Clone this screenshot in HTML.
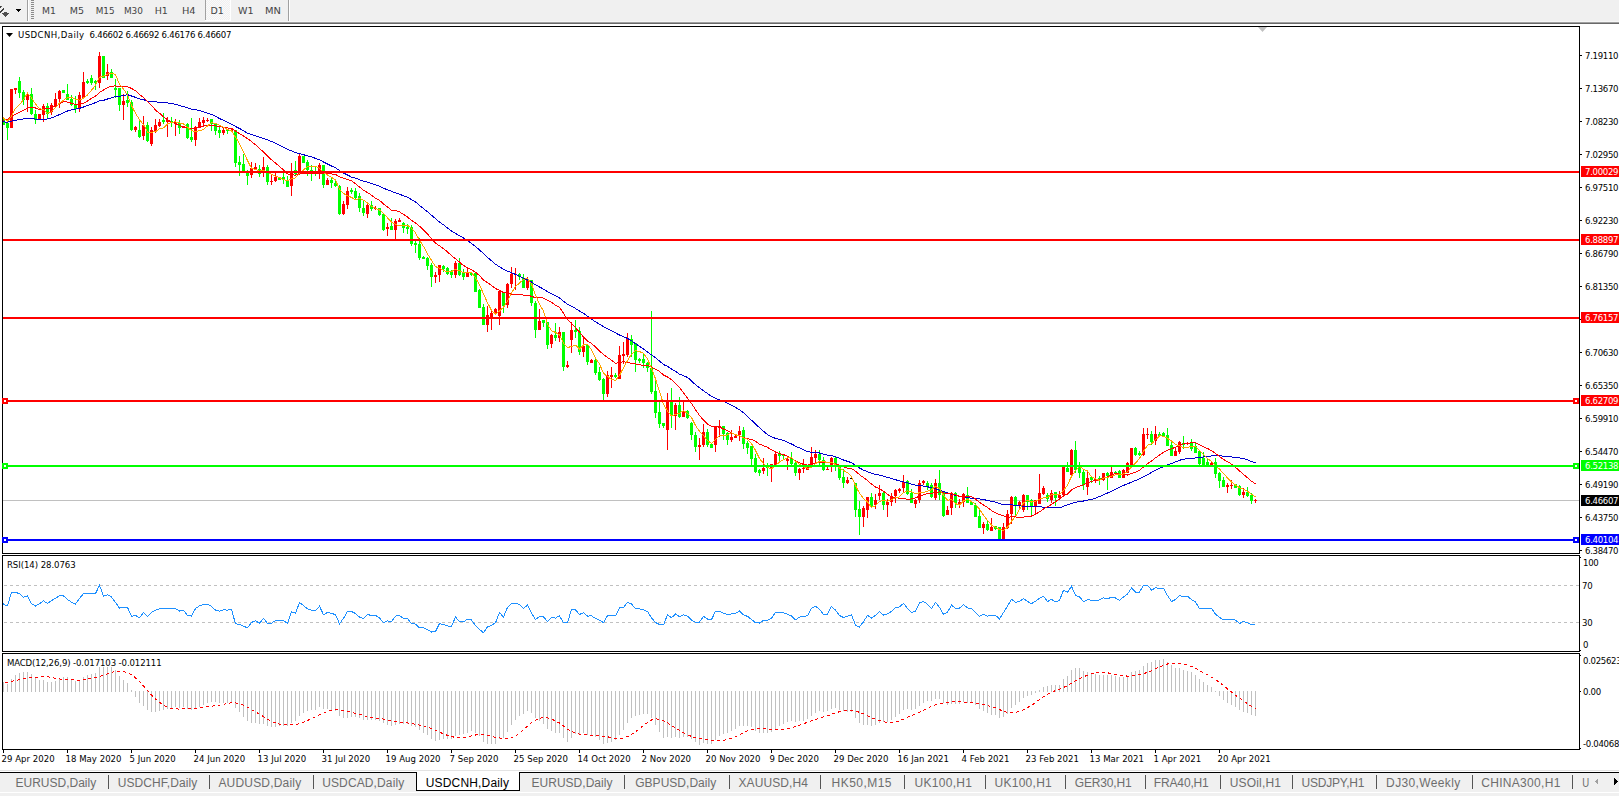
<!DOCTYPE html>
<html><head><meta charset="utf-8"><title>USDCNH,Daily</title>
<style>
html,body{margin:0;padding:0;background:#fff;width:1619px;height:796px;overflow:hidden}
svg{position:absolute;left:0;top:0;display:block}
text{white-space:pre}
.ax{font-family:'DejaVu Sans Condensed','DejaVu Sans','Liberation Sans',sans-serif;font-size:9.5px;letter-spacing:-0.3px}
.tm{font-family:'DejaVu Sans Condensed','DejaVu Sans','Liberation Sans',sans-serif;font-size:9.5px;letter-spacing:0.03px}
.tn{font-family:'DejaVu Sans Condensed','DejaVu Sans','Liberation Sans',sans-serif;font-size:9.5px;letter-spacing:-0.3px}
.ti{font-family:'DejaVu Sans Condensed','DejaVu Sans','Liberation Sans',sans-serif;font-size:9.5px;letter-spacing:0.4px}
.tb{font-family:'DejaVu Sans Condensed','DejaVu Sans','Liberation Sans',sans-serif;font-size:9.5px}
.tab{font-family:'Liberation Sans',sans-serif;font-size:12px}
</style></head>
<body>
<svg width="1619" height="796" viewBox="0 0 1619 796">
<g shape-rendering="crispEdges">
<rect x="0" y="0" width="1619" height="21" fill="#f0f0f0"/><rect x="0" y="21" width="1619" height="1" fill="#f6f6f6"/><rect x="0" y="22" width="1619" height="1" fill="#a0a0a0"/><rect x="0" y="23" width="1619" height="1" fill="#696969"/><defs><pattern id="dith" width="2" height="2" patternUnits="userSpaceOnUse"><rect width="2" height="2" fill="#f0f0f0"/><rect width="1" height="1" fill="#fafafa"/><rect x="1" y="1" width="1" height="1" fill="#fafafa"/></pattern></defs><rect x="206" y="0" width="24" height="20" fill="url(#dith)"/><rect x="205" y="0" width="1" height="20" fill="#a0a0a0"/><rect x="205" y="20" width="26" height="1" fill="#ffffff"/><rect x="230" y="0" width="1" height="21" fill="#ffffff"/><rect x="27" y="0" width="1" height="21" fill="#a0a0a0"/><rect x="28" y="0" width="1" height="21" fill="#ffffff"/><rect x="288" y="0" width="1" height="21" fill="#a0a0a0"/><rect x="289" y="0" width="1" height="21" fill="#ffffff"/><rect x="31" y="0" width="3" height="1" fill="#8a8a8a"/><rect x="31" y="2" width="3" height="1" fill="#8a8a8a"/><rect x="31" y="4" width="3" height="1" fill="#8a8a8a"/><rect x="31" y="6" width="3" height="1" fill="#8a8a8a"/><rect x="31" y="8" width="3" height="1" fill="#8a8a8a"/><rect x="31" y="10" width="3" height="1" fill="#8a8a8a"/><rect x="31" y="12" width="3" height="1" fill="#8a8a8a"/><rect x="31" y="14" width="3" height="1" fill="#8a8a8a"/><rect x="31" y="16" width="3" height="1" fill="#8a8a8a"/><rect x="31" y="18" width="3" height="1" fill="#8a8a8a"/><rect x="0" y="6" width="1" height="2" fill="#404040"/><rect x="1" y="6" width="1" height="1" fill="#606060"/><rect x="3" y="8" width="1" height="1" fill="#404040"/><rect x="2" y="9" width="2" height="1" fill="#404040"/><rect x="1" y="10" width="2" height="1" fill="#404040"/><rect x="0" y="11" width="2" height="1" fill="#404040"/><rect x="0" y="12" width="1" height="1" fill="#404040"/><rect x="4" y="12" width="3" height="1" fill="#505050"/><rect x="2" y="13" width="7" height="1" fill="#505050"/><rect x="3" y="14" width="5" height="1" fill="#505050"/><rect x="4" y="15" width="3" height="1" fill="#505050"/><rect x="5" y="16" width="1" height="1" fill="#505050"/><rect x="16" y="9" width="5" height="1" fill="#000"/><rect x="17" y="10" width="3" height="1" fill="#000"/><rect x="18" y="11" width="1" height="1" fill="#000"/><g><text x="42.0" y="14" class="tb" fill="#444444" textLength="13.8" lengthAdjust="spacingAndGlyphs">M1</text><text x="69.8" y="14" class="tb" fill="#444444" textLength="14.2" lengthAdjust="spacingAndGlyphs">M5</text><text x="95.7" y="14" class="tb" fill="#444444" textLength="18.9" lengthAdjust="spacingAndGlyphs">M15</text><text x="123.9" y="14" class="tb" fill="#444444" textLength="19.0" lengthAdjust="spacingAndGlyphs">M30</text><text x="154.7" y="14" class="tb" fill="#444444" textLength="13.2" lengthAdjust="spacingAndGlyphs">H1</text><text x="181.9" y="14" class="tb" fill="#444444" textLength="13.7" lengthAdjust="spacingAndGlyphs">H4</text><text x="210.6" y="14" class="tb" fill="#444444" textLength="13.3" lengthAdjust="spacingAndGlyphs">D1</text><text x="238.0" y="14" class="tb" fill="#444444" textLength="15.6" lengthAdjust="spacingAndGlyphs">W1</text><text x="264.9" y="14" class="tb" fill="#444444" textLength="15.9" lengthAdjust="spacingAndGlyphs">MN</text></g>
<rect x="2" y="26" width="1578" height="1" fill="#000"/><rect x="2" y="553" width="1578" height="1" fill="#000"/><rect x="2" y="26" width="1" height="528" fill="#000"/><rect x="1579" y="26" width="1" height="528" fill="#000"/><rect x="2" y="555" width="1578" height="1" fill="#000"/><rect x="2" y="651" width="1578" height="1" fill="#000"/><rect x="2" y="555" width="1" height="97" fill="#000"/><rect x="1579" y="555" width="1" height="97" fill="#000"/><rect x="2" y="653" width="1578" height="1" fill="#000"/><rect x="2" y="749" width="1578" height="1" fill="#000"/><rect x="2" y="653" width="1" height="97" fill="#000"/><rect x="1579" y="653" width="1" height="97" fill="#000"/><rect x="1580" y="55" width="2" height="1" fill="#000"/><rect x="1580" y="88" width="2" height="1" fill="#000"/><rect x="1580" y="121" width="2" height="1" fill="#000"/><rect x="1580" y="154" width="2" height="1" fill="#000"/><rect x="1580" y="187" width="2" height="1" fill="#000"/><rect x="1580" y="220" width="2" height="1" fill="#000"/><rect x="1580" y="253" width="2" height="1" fill="#000"/><rect x="1580" y="286" width="2" height="1" fill="#000"/><rect x="1580" y="319" width="2" height="1" fill="#000"/><rect x="1580" y="352" width="2" height="1" fill="#000"/><rect x="1580" y="385" width="2" height="1" fill="#000"/><rect x="1580" y="418" width="2" height="1" fill="#000"/><rect x="1580" y="451" width="2" height="1" fill="#000"/><rect x="1580" y="484" width="2" height="1" fill="#000"/><rect x="1580" y="517" width="2" height="1" fill="#000"/><rect x="1580" y="550" width="2" height="1" fill="#000"/><rect x="1580" y="557" width="1" height="1" fill="#000"/><rect x="1580" y="650" width="1" height="1" fill="#000"/><line x1="4" y1="585.5" x2="1579" y2="585.5" stroke="#c0c0c0" stroke-width="1" stroke-dasharray="3 3"/><line x1="4" y1="622.5" x2="1579" y2="622.5" stroke="#c0c0c0" stroke-width="1" stroke-dasharray="3 3"/><rect x="1580" y="655" width="1" height="1" fill="#000"/><rect x="1580" y="691" width="1" height="1" fill="#000"/><rect x="1580" y="748" width="1" height="1" fill="#000"/><rect x="3" y="750" width="1" height="3" fill="#000"/><rect x="67" y="750" width="1" height="3" fill="#000"/><rect x="131" y="750" width="1" height="3" fill="#000"/><rect x="195" y="750" width="1" height="3" fill="#000"/><rect x="259" y="750" width="1" height="3" fill="#000"/><rect x="323" y="750" width="1" height="3" fill="#000"/><rect x="387" y="750" width="1" height="3" fill="#000"/><rect x="451" y="750" width="1" height="3" fill="#000"/><rect x="515" y="750" width="1" height="3" fill="#000"/><rect x="579" y="750" width="1" height="3" fill="#000"/><rect x="643" y="750" width="1" height="3" fill="#000"/><rect x="707" y="750" width="1" height="3" fill="#000"/><rect x="771" y="750" width="1" height="3" fill="#000"/><rect x="835" y="750" width="1" height="3" fill="#000"/><rect x="899" y="750" width="1" height="3" fill="#000"/><rect x="963" y="750" width="1" height="3" fill="#000"/><rect x="1027" y="750" width="1" height="3" fill="#000"/><rect x="1091" y="750" width="1" height="3" fill="#000"/><rect x="1155" y="750" width="1" height="3" fill="#000"/><rect x="1219" y="750" width="1" height="3" fill="#000"/>
<rect x="3" y="500" width="1576" height="1" fill="#c0c0c0"/>
</g>
<defs><clipPath id="cp"><rect x="3" y="27" width="1576" height="526"/></clipPath><clipPath id="cr"><rect x="3" y="556" width="1576" height="95"/></clipPath><clipPath id="cm"><rect x="3" y="654" width="1576" height="95"/></clipPath></defs>
<g clip-path="url(#cp)" shape-rendering="crispEdges"><rect x="3" y="117" width="1" height="8" fill="#00ff00"/><rect x="2" y="118" width="3" height="7" fill="#00ff00"/><rect x="7" y="123" width="1" height="17" fill="#00ff00"/><rect x="6" y="123" width="3" height="5" fill="#00ff00"/><rect x="11" y="89" width="1" height="39" fill="#ff0000"/><rect x="10" y="89" width="3" height="39" fill="#ff0000"/><rect x="15" y="88" width="1" height="6" fill="#ff0000"/><rect x="14" y="88" width="3" height="2" fill="#ff0000"/><rect x="19" y="77" width="1" height="21" fill="#00ff00"/><rect x="18" y="81" width="3" height="12" fill="#00ff00"/><rect x="23" y="90" width="1" height="15" fill="#00ff00"/><rect x="22" y="92" width="3" height="8" fill="#00ff00"/><rect x="27" y="92" width="1" height="20" fill="#ff0000"/><rect x="26" y="95" width="3" height="5" fill="#ff0000"/><rect x="31" y="88" width="1" height="27" fill="#00ff00"/><rect x="30" y="94" width="3" height="20" fill="#00ff00"/><rect x="35" y="110" width="1" height="14" fill="#00ff00"/><rect x="34" y="114" width="3" height="6" fill="#00ff00"/><rect x="39" y="114" width="1" height="6" fill="#ff0000"/><rect x="38" y="114" width="3" height="6" fill="#ff0000"/><rect x="43" y="104" width="1" height="18" fill="#ff0000"/><rect x="42" y="106" width="3" height="9" fill="#ff0000"/><rect x="47" y="103" width="1" height="15" fill="#00ff00"/><rect x="46" y="106" width="3" height="8" fill="#00ff00"/><rect x="51" y="103" width="1" height="12" fill="#ff0000"/><rect x="50" y="105" width="3" height="7" fill="#ff0000"/><rect x="55" y="93" width="1" height="15" fill="#ff0000"/><rect x="54" y="99" width="3" height="8" fill="#ff0000"/><rect x="59" y="90" width="1" height="18" fill="#ff0000"/><rect x="58" y="91" width="3" height="8" fill="#ff0000"/><rect x="63" y="90" width="1" height="3" fill="#00ff00"/><rect x="62" y="90" width="3" height="3" fill="#00ff00"/><rect x="67" y="84" width="1" height="16" fill="#00ff00"/><rect x="66" y="94" width="3" height="6" fill="#00ff00"/><rect x="71" y="95" width="1" height="11" fill="#00ff00"/><rect x="70" y="99" width="3" height="6" fill="#00ff00"/><rect x="75" y="96" width="1" height="17" fill="#00ff00"/><rect x="74" y="104" width="3" height="5" fill="#00ff00"/><rect x="79" y="92" width="1" height="20" fill="#ff0000"/><rect x="78" y="95" width="3" height="13" fill="#ff0000"/><rect x="83" y="72" width="1" height="26" fill="#ff0000"/><rect x="82" y="82" width="3" height="16" fill="#ff0000"/><rect x="87" y="79" width="1" height="5" fill="#00ff00"/><rect x="86" y="81" width="3" height="2" fill="#00ff00"/><rect x="91" y="75" width="1" height="10" fill="#00ff00"/><rect x="90" y="78" width="3" height="5" fill="#00ff00"/><rect x="95" y="80" width="1" height="10" fill="#00ff00"/><rect x="94" y="81" width="3" height="2" fill="#00ff00"/><rect x="99" y="52" width="1" height="36" fill="#ff0000"/><rect x="98" y="56" width="3" height="27" fill="#ff0000"/><rect x="103" y="56" width="1" height="22" fill="#00ff00"/><rect x="102" y="56" width="3" height="22" fill="#00ff00"/><rect x="107" y="64" width="1" height="16" fill="#ff0000"/><rect x="106" y="72" width="3" height="4" fill="#ff0000"/><rect x="111" y="69" width="1" height="9" fill="#00ff00"/><rect x="110" y="72" width="3" height="6" fill="#00ff00"/><rect x="115" y="79" width="1" height="19" fill="#00ff00"/><rect x="114" y="88" width="3" height="2" fill="#00ff00"/><rect x="119" y="88" width="1" height="23" fill="#00ff00"/><rect x="118" y="88" width="3" height="17" fill="#00ff00"/><rect x="123" y="94" width="1" height="26" fill="#ff0000"/><rect x="122" y="101" width="3" height="4" fill="#ff0000"/><rect x="127" y="91" width="1" height="16" fill="#00ff00"/><rect x="126" y="100" width="3" height="3" fill="#00ff00"/><rect x="131" y="100" width="1" height="31" fill="#00ff00"/><rect x="130" y="102" width="3" height="28" fill="#00ff00"/><rect x="135" y="126" width="1" height="6" fill="#ff0000"/><rect x="134" y="127" width="3" height="3" fill="#ff0000"/><rect x="139" y="120" width="1" height="18" fill="#00ff00"/><rect x="138" y="130" width="3" height="7" fill="#00ff00"/><rect x="143" y="116" width="1" height="24" fill="#ff0000"/><rect x="142" y="125" width="3" height="11" fill="#ff0000"/><rect x="147" y="122" width="1" height="20" fill="#00ff00"/><rect x="146" y="125" width="3" height="16" fill="#00ff00"/><rect x="151" y="127" width="1" height="19" fill="#ff0000"/><rect x="150" y="130" width="3" height="14" fill="#ff0000"/><rect x="155" y="119" width="1" height="14" fill="#ff0000"/><rect x="154" y="125" width="3" height="6" fill="#ff0000"/><rect x="159" y="119" width="1" height="8" fill="#ff0000"/><rect x="158" y="122" width="3" height="4" fill="#ff0000"/><rect x="163" y="113" width="1" height="11" fill="#00ff00"/><rect x="162" y="120" width="3" height="2" fill="#00ff00"/><rect x="167" y="117" width="1" height="20" fill="#ff0000"/><rect x="166" y="120" width="3" height="2" fill="#ff0000"/><rect x="171" y="117" width="1" height="10" fill="#00ff00"/><rect x="170" y="121" width="3" height="2" fill="#00ff00"/><rect x="175" y="119" width="1" height="17" fill="#ff0000"/><rect x="174" y="122" width="3" height="2" fill="#ff0000"/><rect x="179" y="120" width="1" height="14" fill="#00ff00"/><rect x="178" y="123" width="3" height="5" fill="#00ff00"/><rect x="183" y="126" width="1" height="2" fill="#ff0000"/><rect x="182" y="126" width="3" height="2" fill="#ff0000"/><rect x="187" y="123" width="1" height="16" fill="#00ff00"/><rect x="186" y="124" width="3" height="14" fill="#00ff00"/><rect x="191" y="118" width="1" height="24" fill="#00ff00"/><rect x="190" y="137" width="3" height="3" fill="#00ff00"/><rect x="195" y="126" width="1" height="20" fill="#ff0000"/><rect x="194" y="127" width="3" height="13" fill="#ff0000"/><rect x="199" y="118" width="1" height="10" fill="#ff0000"/><rect x="198" y="122" width="3" height="5" fill="#ff0000"/><rect x="203" y="117" width="1" height="9" fill="#ff0000"/><rect x="202" y="120" width="3" height="3" fill="#ff0000"/><rect x="207" y="118" width="1" height="4" fill="#ff0000"/><rect x="206" y="120" width="3" height="1" fill="#ff0000"/><rect x="211" y="119" width="1" height="12" fill="#00ff00"/><rect x="210" y="119" width="3" height="5" fill="#00ff00"/><rect x="215" y="123" width="1" height="12" fill="#00ff00"/><rect x="214" y="124" width="3" height="7" fill="#00ff00"/><rect x="219" y="127" width="1" height="11" fill="#00ff00"/><rect x="218" y="130" width="3" height="3" fill="#00ff00"/><rect x="223" y="128" width="1" height="7" fill="#ff0000"/><rect x="222" y="130" width="3" height="3" fill="#ff0000"/><rect x="227" y="129" width="1" height="5" fill="#00ff00"/><rect x="226" y="130" width="3" height="1" fill="#00ff00"/><rect x="231" y="129" width="1" height="2" fill="#ff0000"/><rect x="230" y="130" width="3" height="1" fill="#ff0000"/><rect x="235" y="130" width="1" height="37" fill="#00ff00"/><rect x="234" y="130" width="3" height="33" fill="#00ff00"/><rect x="239" y="156" width="1" height="20" fill="#00ff00"/><rect x="238" y="162" width="3" height="3" fill="#00ff00"/><rect x="243" y="154" width="1" height="17" fill="#00ff00"/><rect x="242" y="164" width="3" height="7" fill="#00ff00"/><rect x="247" y="170" width="1" height="15" fill="#00ff00"/><rect x="246" y="173" width="3" height="3" fill="#00ff00"/><rect x="251" y="162" width="1" height="16" fill="#ff0000"/><rect x="250" y="168" width="3" height="7" fill="#ff0000"/><rect x="255" y="163" width="1" height="7" fill="#ff0000"/><rect x="254" y="167" width="3" height="2" fill="#ff0000"/><rect x="259" y="165" width="1" height="12" fill="#00ff00"/><rect x="258" y="169" width="3" height="5" fill="#00ff00"/><rect x="263" y="157" width="1" height="20" fill="#ff0000"/><rect x="262" y="167" width="3" height="6" fill="#ff0000"/><rect x="267" y="165" width="1" height="20" fill="#00ff00"/><rect x="266" y="167" width="3" height="15" fill="#00ff00"/><rect x="271" y="174" width="1" height="11" fill="#ff0000"/><rect x="270" y="181" width="3" height="1" fill="#ff0000"/><rect x="275" y="173" width="1" height="9" fill="#ff0000"/><rect x="274" y="177" width="3" height="4" fill="#ff0000"/><rect x="279" y="177" width="1" height="3" fill="#00ff00"/><rect x="278" y="177" width="3" height="3" fill="#00ff00"/><rect x="283" y="173" width="1" height="11" fill="#00ff00"/><rect x="282" y="177" width="3" height="2" fill="#00ff00"/><rect x="287" y="176" width="1" height="11" fill="#00ff00"/><rect x="286" y="180" width="3" height="7" fill="#00ff00"/><rect x="291" y="163" width="1" height="33" fill="#ff0000"/><rect x="290" y="171" width="3" height="15" fill="#ff0000"/><rect x="295" y="161" width="1" height="15" fill="#00ff00"/><rect x="294" y="170" width="3" height="4" fill="#00ff00"/><rect x="299" y="154" width="1" height="20" fill="#ff0000"/><rect x="298" y="156" width="3" height="18" fill="#ff0000"/><rect x="303" y="156" width="1" height="7" fill="#00ff00"/><rect x="302" y="156" width="3" height="7" fill="#00ff00"/><rect x="307" y="160" width="1" height="16" fill="#00ff00"/><rect x="306" y="162" width="3" height="8" fill="#00ff00"/><rect x="311" y="165" width="1" height="16" fill="#00ff00"/><rect x="310" y="170" width="3" height="2" fill="#00ff00"/><rect x="315" y="167" width="1" height="9" fill="#00ff00"/><rect x="314" y="171" width="3" height="2" fill="#00ff00"/><rect x="319" y="163" width="1" height="16" fill="#ff0000"/><rect x="318" y="165" width="3" height="6" fill="#ff0000"/><rect x="323" y="165" width="1" height="23" fill="#00ff00"/><rect x="322" y="165" width="3" height="20" fill="#00ff00"/><rect x="327" y="178" width="1" height="7" fill="#ff0000"/><rect x="326" y="180" width="3" height="5" fill="#ff0000"/><rect x="331" y="177" width="1" height="11" fill="#00ff00"/><rect x="330" y="180" width="3" height="3" fill="#00ff00"/><rect x="335" y="180" width="1" height="7" fill="#00ff00"/><rect x="334" y="183" width="3" height="3" fill="#00ff00"/><rect x="339" y="185" width="1" height="30" fill="#00ff00"/><rect x="338" y="186" width="3" height="28" fill="#00ff00"/><rect x="343" y="201" width="1" height="14" fill="#ff0000"/><rect x="342" y="204" width="3" height="10" fill="#ff0000"/><rect x="347" y="187" width="1" height="22" fill="#ff0000"/><rect x="346" y="191" width="3" height="14" fill="#ff0000"/><rect x="351" y="188" width="1" height="6" fill="#00ff00"/><rect x="350" y="190" width="3" height="2" fill="#00ff00"/><rect x="355" y="188" width="1" height="11" fill="#00ff00"/><rect x="354" y="191" width="3" height="7" fill="#00ff00"/><rect x="359" y="193" width="1" height="19" fill="#00ff00"/><rect x="358" y="196" width="3" height="12" fill="#00ff00"/><rect x="363" y="201" width="1" height="15" fill="#00ff00"/><rect x="362" y="208" width="3" height="5" fill="#00ff00"/><rect x="367" y="204" width="1" height="14" fill="#ff0000"/><rect x="366" y="205" width="3" height="9" fill="#ff0000"/><rect x="371" y="201" width="1" height="10" fill="#00ff00"/><rect x="370" y="205" width="3" height="4" fill="#00ff00"/><rect x="375" y="206" width="1" height="4" fill="#ff0000"/><rect x="374" y="208" width="3" height="1" fill="#ff0000"/><rect x="379" y="208" width="1" height="8" fill="#00ff00"/><rect x="378" y="208" width="3" height="7" fill="#00ff00"/><rect x="383" y="214" width="1" height="17" fill="#00ff00"/><rect x="382" y="214" width="3" height="16" fill="#00ff00"/><rect x="387" y="223" width="1" height="13" fill="#ff0000"/><rect x="386" y="227" width="3" height="2" fill="#ff0000"/><rect x="391" y="218" width="1" height="12" fill="#00ff00"/><rect x="390" y="226" width="3" height="4" fill="#00ff00"/><rect x="395" y="219" width="1" height="20" fill="#ff0000"/><rect x="394" y="221" width="3" height="9" fill="#ff0000"/><rect x="399" y="218" width="1" height="4" fill="#ff0000"/><rect x="398" y="220" width="3" height="2" fill="#ff0000"/><rect x="403" y="222" width="1" height="11" fill="#00ff00"/><rect x="402" y="223" width="3" height="5" fill="#00ff00"/><rect x="407" y="224" width="1" height="10" fill="#00ff00"/><rect x="406" y="227" width="3" height="2" fill="#00ff00"/><rect x="411" y="225" width="1" height="21" fill="#00ff00"/><rect x="410" y="227" width="3" height="17" fill="#00ff00"/><rect x="415" y="241" width="1" height="12" fill="#00ff00"/><rect x="414" y="243" width="3" height="2" fill="#00ff00"/><rect x="419" y="238" width="1" height="22" fill="#00ff00"/><rect x="418" y="244" width="3" height="14" fill="#00ff00"/><rect x="423" y="256" width="1" height="3" fill="#00ff00"/><rect x="422" y="257" width="3" height="2" fill="#00ff00"/><rect x="427" y="257" width="1" height="13" fill="#00ff00"/><rect x="426" y="258" width="3" height="8" fill="#00ff00"/><rect x="431" y="263" width="1" height="24" fill="#00ff00"/><rect x="430" y="265" width="3" height="12" fill="#00ff00"/><rect x="435" y="272" width="1" height="11" fill="#ff0000"/><rect x="434" y="275" width="3" height="2" fill="#ff0000"/><rect x="439" y="265" width="1" height="17" fill="#ff0000"/><rect x="438" y="265" width="3" height="10" fill="#ff0000"/><rect x="443" y="265" width="1" height="7" fill="#00ff00"/><rect x="442" y="266" width="3" height="3" fill="#00ff00"/><rect x="447" y="267" width="1" height="8" fill="#00ff00"/><rect x="446" y="268" width="3" height="6" fill="#00ff00"/><rect x="451" y="270" width="1" height="8" fill="#00ff00"/><rect x="450" y="272" width="3" height="3" fill="#00ff00"/><rect x="455" y="261" width="1" height="17" fill="#ff0000"/><rect x="454" y="263" width="3" height="12" fill="#ff0000"/><rect x="459" y="258" width="1" height="18" fill="#00ff00"/><rect x="458" y="263" width="3" height="12" fill="#00ff00"/><rect x="463" y="269" width="1" height="11" fill="#00ff00"/><rect x="462" y="273" width="3" height="4" fill="#00ff00"/><rect x="467" y="267" width="1" height="10" fill="#ff0000"/><rect x="466" y="272" width="3" height="5" fill="#ff0000"/><rect x="471" y="272" width="1" height="4" fill="#00ff00"/><rect x="470" y="273" width="3" height="2" fill="#00ff00"/><rect x="475" y="273" width="1" height="19" fill="#00ff00"/><rect x="474" y="273" width="3" height="19" fill="#00ff00"/><rect x="479" y="289" width="1" height="19" fill="#00ff00"/><rect x="478" y="290" width="3" height="18" fill="#00ff00"/><rect x="483" y="304" width="1" height="21" fill="#00ff00"/><rect x="482" y="307" width="3" height="18" fill="#00ff00"/><rect x="487" y="306" width="1" height="26" fill="#ff0000"/><rect x="486" y="315" width="3" height="10" fill="#ff0000"/><rect x="491" y="310" width="1" height="20" fill="#ff0000"/><rect x="490" y="313" width="3" height="5" fill="#ff0000"/><rect x="495" y="308" width="1" height="7" fill="#ff0000"/><rect x="494" y="309" width="3" height="5" fill="#ff0000"/><rect x="499" y="291" width="1" height="34" fill="#ff0000"/><rect x="498" y="291" width="3" height="25" fill="#ff0000"/><rect x="503" y="292" width="1" height="21" fill="#00ff00"/><rect x="502" y="293" width="3" height="13" fill="#00ff00"/><rect x="507" y="283" width="1" height="25" fill="#ff0000"/><rect x="506" y="284" width="3" height="21" fill="#ff0000"/><rect x="511" y="267" width="1" height="21" fill="#ff0000"/><rect x="510" y="274" width="3" height="10" fill="#ff0000"/><rect x="515" y="268" width="1" height="22" fill="#ff0000"/><rect x="514" y="274" width="3" height="1" fill="#ff0000"/><rect x="519" y="273" width="1" height="7" fill="#00ff00"/><rect x="518" y="274" width="3" height="3" fill="#00ff00"/><rect x="523" y="274" width="1" height="14" fill="#00ff00"/><rect x="522" y="278" width="3" height="10" fill="#00ff00"/><rect x="527" y="277" width="1" height="13" fill="#ff0000"/><rect x="526" y="279" width="3" height="9" fill="#ff0000"/><rect x="531" y="280" width="1" height="26" fill="#00ff00"/><rect x="530" y="280" width="3" height="23" fill="#00ff00"/><rect x="535" y="301" width="1" height="37" fill="#00ff00"/><rect x="534" y="303" width="3" height="27" fill="#00ff00"/><rect x="539" y="309" width="1" height="21" fill="#ff0000"/><rect x="538" y="321" width="3" height="9" fill="#ff0000"/><rect x="543" y="320" width="1" height="7" fill="#00ff00"/><rect x="542" y="320" width="3" height="3" fill="#00ff00"/><rect x="547" y="322" width="1" height="27" fill="#00ff00"/><rect x="546" y="322" width="3" height="23" fill="#00ff00"/><rect x="551" y="334" width="1" height="14" fill="#ff0000"/><rect x="550" y="335" width="3" height="9" fill="#ff0000"/><rect x="555" y="323" width="1" height="18" fill="#00ff00"/><rect x="554" y="335" width="3" height="3" fill="#00ff00"/><rect x="559" y="327" width="1" height="15" fill="#ff0000"/><rect x="558" y="332" width="3" height="6" fill="#ff0000"/><rect x="563" y="332" width="1" height="39" fill="#00ff00"/><rect x="562" y="332" width="3" height="35" fill="#00ff00"/><rect x="567" y="361" width="1" height="7" fill="#ff0000"/><rect x="566" y="365" width="3" height="2" fill="#ff0000"/><rect x="571" y="322" width="1" height="31" fill="#ff0000"/><rect x="570" y="330" width="3" height="10" fill="#ff0000"/><rect x="575" y="320" width="1" height="18" fill="#00ff00"/><rect x="574" y="330" width="3" height="2" fill="#00ff00"/><rect x="579" y="327" width="1" height="28" fill="#00ff00"/><rect x="578" y="331" width="3" height="21" fill="#00ff00"/><rect x="583" y="338" width="1" height="19" fill="#ff0000"/><rect x="582" y="346" width="3" height="6" fill="#ff0000"/><rect x="587" y="345" width="1" height="20" fill="#00ff00"/><rect x="586" y="345" width="3" height="17" fill="#00ff00"/><rect x="591" y="359" width="1" height="4" fill="#ff0000"/><rect x="590" y="360" width="3" height="3" fill="#ff0000"/><rect x="595" y="358" width="1" height="17" fill="#00ff00"/><rect x="594" y="360" width="3" height="13" fill="#00ff00"/><rect x="599" y="367" width="1" height="14" fill="#00ff00"/><rect x="598" y="372" width="3" height="8" fill="#00ff00"/><rect x="603" y="378" width="1" height="22" fill="#00ff00"/><rect x="602" y="379" width="3" height="15" fill="#00ff00"/><rect x="607" y="371" width="1" height="26" fill="#ff0000"/><rect x="606" y="375" width="3" height="19" fill="#ff0000"/><rect x="611" y="367" width="1" height="21" fill="#ff0000"/><rect x="610" y="375" width="3" height="2" fill="#ff0000"/><rect x="615" y="373" width="1" height="5" fill="#00ff00"/><rect x="614" y="375" width="3" height="2" fill="#00ff00"/><rect x="619" y="346" width="1" height="33" fill="#ff0000"/><rect x="618" y="355" width="3" height="24" fill="#ff0000"/><rect x="623" y="342" width="1" height="22" fill="#ff0000"/><rect x="622" y="354" width="3" height="2" fill="#ff0000"/><rect x="627" y="333" width="1" height="24" fill="#ff0000"/><rect x="626" y="339" width="3" height="16" fill="#ff0000"/><rect x="631" y="335" width="1" height="22" fill="#00ff00"/><rect x="630" y="339" width="3" height="6" fill="#00ff00"/><rect x="635" y="343" width="1" height="29" fill="#00ff00"/><rect x="634" y="343" width="3" height="17" fill="#00ff00"/><rect x="639" y="358" width="1" height="5" fill="#00ff00"/><rect x="638" y="359" width="3" height="2" fill="#00ff00"/><rect x="643" y="354" width="1" height="14" fill="#00ff00"/><rect x="642" y="359" width="3" height="4" fill="#00ff00"/><rect x="647" y="362" width="1" height="10" fill="#00ff00"/><rect x="646" y="363" width="3" height="5" fill="#00ff00"/><rect x="651" y="311" width="1" height="83" fill="#00ff00"/><rect x="650" y="368" width="3" height="24" fill="#00ff00"/><rect x="655" y="381" width="1" height="37" fill="#00ff00"/><rect x="654" y="391" width="3" height="22" fill="#00ff00"/><rect x="659" y="401" width="1" height="27" fill="#00ff00"/><rect x="658" y="412" width="3" height="12" fill="#00ff00"/><rect x="663" y="423" width="1" height="5" fill="#00ff00"/><rect x="662" y="423" width="3" height="3" fill="#00ff00"/><rect x="667" y="393" width="1" height="57" fill="#ff0000"/><rect x="666" y="402" width="3" height="28" fill="#ff0000"/><rect x="671" y="388" width="1" height="40" fill="#00ff00"/><rect x="670" y="402" width="3" height="14" fill="#00ff00"/><rect x="675" y="403" width="1" height="27" fill="#ff0000"/><rect x="674" y="405" width="3" height="11" fill="#ff0000"/><rect x="679" y="397" width="1" height="21" fill="#00ff00"/><rect x="678" y="405" width="3" height="12" fill="#00ff00"/><rect x="683" y="402" width="1" height="15" fill="#ff0000"/><rect x="682" y="412" width="3" height="5" fill="#ff0000"/><rect x="687" y="410" width="1" height="9" fill="#00ff00"/><rect x="686" y="411" width="3" height="7" fill="#00ff00"/><rect x="691" y="422" width="1" height="18" fill="#00ff00"/><rect x="690" y="423" width="3" height="12" fill="#00ff00"/><rect x="695" y="432" width="1" height="20" fill="#00ff00"/><rect x="694" y="435" width="3" height="12" fill="#00ff00"/><rect x="699" y="438" width="1" height="22" fill="#ff0000"/><rect x="698" y="445" width="3" height="2" fill="#ff0000"/><rect x="703" y="424" width="1" height="23" fill="#ff0000"/><rect x="702" y="432" width="3" height="13" fill="#ff0000"/><rect x="707" y="429" width="1" height="18" fill="#00ff00"/><rect x="706" y="432" width="3" height="13" fill="#00ff00"/><rect x="711" y="444" width="1" height="4" fill="#00ff00"/><rect x="710" y="444" width="3" height="4" fill="#00ff00"/><rect x="715" y="426" width="1" height="26" fill="#ff0000"/><rect x="714" y="426" width="3" height="19" fill="#ff0000"/><rect x="719" y="420" width="1" height="17" fill="#ff0000"/><rect x="718" y="426" width="3" height="2" fill="#ff0000"/><rect x="723" y="426" width="1" height="14" fill="#00ff00"/><rect x="722" y="426" width="3" height="8" fill="#00ff00"/><rect x="727" y="432" width="1" height="13" fill="#00ff00"/><rect x="726" y="433" width="3" height="7" fill="#00ff00"/><rect x="731" y="430" width="1" height="12" fill="#ff0000"/><rect x="730" y="437" width="3" height="3" fill="#ff0000"/><rect x="735" y="435" width="1" height="3" fill="#ff0000"/><rect x="734" y="436" width="3" height="2" fill="#ff0000"/><rect x="739" y="426" width="1" height="15" fill="#ff0000"/><rect x="738" y="431" width="3" height="4" fill="#ff0000"/><rect x="743" y="427" width="1" height="22" fill="#00ff00"/><rect x="742" y="430" width="3" height="14" fill="#00ff00"/><rect x="747" y="441" width="1" height="13" fill="#00ff00"/><rect x="746" y="443" width="3" height="5" fill="#00ff00"/><rect x="751" y="446" width="1" height="19" fill="#00ff00"/><rect x="750" y="446" width="3" height="13" fill="#00ff00"/><rect x="755" y="454" width="1" height="19" fill="#00ff00"/><rect x="754" y="458" width="3" height="14" fill="#00ff00"/><rect x="759" y="469" width="1" height="7" fill="#00ff00"/><rect x="758" y="470" width="3" height="3" fill="#00ff00"/><rect x="763" y="458" width="1" height="16" fill="#ff0000"/><rect x="762" y="468" width="3" height="3" fill="#ff0000"/><rect x="767" y="463" width="1" height="13" fill="#00ff00"/><rect x="766" y="467" width="3" height="1" fill="#00ff00"/><rect x="771" y="464" width="1" height="18" fill="#ff0000"/><rect x="770" y="464" width="3" height="4" fill="#ff0000"/><rect x="775" y="451" width="1" height="14" fill="#ff0000"/><rect x="774" y="454" width="3" height="11" fill="#ff0000"/><rect x="779" y="451" width="1" height="11" fill="#00ff00"/><rect x="778" y="453" width="3" height="3" fill="#00ff00"/><rect x="783" y="454" width="1" height="5" fill="#00ff00"/><rect x="782" y="455" width="3" height="1" fill="#00ff00"/><rect x="787" y="458" width="1" height="12" fill="#ff0000"/><rect x="786" y="459" width="3" height="2" fill="#ff0000"/><rect x="791" y="452" width="1" height="13" fill="#00ff00"/><rect x="790" y="458" width="3" height="6" fill="#00ff00"/><rect x="795" y="462" width="1" height="14" fill="#00ff00"/><rect x="794" y="463" width="3" height="10" fill="#00ff00"/><rect x="799" y="468" width="1" height="12" fill="#ff0000"/><rect x="798" y="469" width="3" height="4" fill="#ff0000"/><rect x="803" y="459" width="1" height="14" fill="#ff0000"/><rect x="802" y="468" width="3" height="1" fill="#ff0000"/><rect x="807" y="465" width="1" height="5" fill="#ff0000"/><rect x="806" y="467" width="3" height="3" fill="#ff0000"/><rect x="811" y="447" width="1" height="18" fill="#ff0000"/><rect x="810" y="457" width="3" height="8" fill="#ff0000"/><rect x="815" y="450" width="1" height="12" fill="#ff0000"/><rect x="814" y="454" width="3" height="4" fill="#ff0000"/><rect x="819" y="450" width="1" height="17" fill="#00ff00"/><rect x="818" y="454" width="3" height="6" fill="#00ff00"/><rect x="823" y="457" width="1" height="14" fill="#00ff00"/><rect x="822" y="460" width="3" height="10" fill="#00ff00"/><rect x="827" y="467" width="1" height="3" fill="#ff0000"/><rect x="826" y="469" width="3" height="1" fill="#ff0000"/><rect x="831" y="457" width="1" height="15" fill="#ff0000"/><rect x="830" y="458" width="3" height="9" fill="#ff0000"/><rect x="835" y="456" width="1" height="15" fill="#00ff00"/><rect x="834" y="458" width="3" height="8" fill="#00ff00"/><rect x="839" y="466" width="1" height="14" fill="#00ff00"/><rect x="838" y="467" width="3" height="11" fill="#00ff00"/><rect x="843" y="469" width="1" height="19" fill="#00ff00"/><rect x="842" y="477" width="3" height="6" fill="#00ff00"/><rect x="847" y="477" width="1" height="7" fill="#ff0000"/><rect x="846" y="480" width="3" height="3" fill="#ff0000"/><rect x="850" y="478" width="3" height="1" fill="#000000"/><rect x="855" y="483" width="1" height="34" fill="#00ff00"/><rect x="854" y="483" width="3" height="27" fill="#00ff00"/><rect x="859" y="501" width="1" height="34" fill="#00ff00"/><rect x="858" y="509" width="3" height="8" fill="#00ff00"/><rect x="863" y="506" width="1" height="21" fill="#ff0000"/><rect x="862" y="508" width="3" height="9" fill="#ff0000"/><rect x="867" y="497" width="1" height="21" fill="#ff0000"/><rect x="866" y="497" width="3" height="13" fill="#ff0000"/><rect x="871" y="493" width="1" height="14" fill="#00ff00"/><rect x="870" y="497" width="3" height="9" fill="#00ff00"/><rect x="875" y="494" width="1" height="15" fill="#ff0000"/><rect x="874" y="500" width="3" height="5" fill="#ff0000"/><rect x="879" y="485" width="1" height="15" fill="#ff0000"/><rect x="878" y="493" width="3" height="3" fill="#ff0000"/><rect x="883" y="492" width="1" height="18" fill="#00ff00"/><rect x="882" y="493" width="3" height="12" fill="#00ff00"/><rect x="887" y="499" width="1" height="18" fill="#ff0000"/><rect x="886" y="502" width="3" height="3" fill="#ff0000"/><rect x="891" y="493" width="1" height="13" fill="#ff0000"/><rect x="890" y="497" width="3" height="5" fill="#ff0000"/><rect x="895" y="489" width="1" height="14" fill="#ff0000"/><rect x="894" y="490" width="3" height="6" fill="#ff0000"/><rect x="899" y="488" width="1" height="5" fill="#ff0000"/><rect x="898" y="489" width="3" height="2" fill="#ff0000"/><rect x="903" y="475" width="1" height="17" fill="#ff0000"/><rect x="902" y="482" width="3" height="6" fill="#ff0000"/><rect x="907" y="480" width="1" height="15" fill="#00ff00"/><rect x="906" y="481" width="3" height="13" fill="#00ff00"/><rect x="911" y="489" width="1" height="14" fill="#00ff00"/><rect x="910" y="493" width="3" height="10" fill="#00ff00"/><rect x="915" y="499" width="1" height="9" fill="#ff0000"/><rect x="914" y="500" width="3" height="4" fill="#ff0000"/><rect x="919" y="480" width="1" height="23" fill="#ff0000"/><rect x="918" y="483" width="3" height="17" fill="#ff0000"/><rect x="923" y="480" width="1" height="5" fill="#ff0000"/><rect x="922" y="481" width="3" height="2" fill="#ff0000"/><rect x="927" y="481" width="1" height="9" fill="#00ff00"/><rect x="926" y="483" width="3" height="4" fill="#00ff00"/><rect x="931" y="483" width="1" height="15" fill="#00ff00"/><rect x="930" y="485" width="3" height="12" fill="#00ff00"/><rect x="935" y="479" width="1" height="21" fill="#ff0000"/><rect x="934" y="483" width="3" height="15" fill="#ff0000"/><rect x="939" y="470" width="1" height="30" fill="#00ff00"/><rect x="938" y="483" width="3" height="12" fill="#00ff00"/><rect x="943" y="491" width="1" height="26" fill="#00ff00"/><rect x="942" y="492" width="3" height="24" fill="#00ff00"/><rect x="947" y="506" width="1" height="9" fill="#ff0000"/><rect x="946" y="510" width="3" height="5" fill="#ff0000"/><rect x="951" y="492" width="1" height="23" fill="#ff0000"/><rect x="950" y="493" width="3" height="15" fill="#ff0000"/><rect x="955" y="492" width="1" height="16" fill="#00ff00"/><rect x="954" y="493" width="3" height="10" fill="#00ff00"/><rect x="959" y="499" width="1" height="9" fill="#ff0000"/><rect x="958" y="502" width="3" height="2" fill="#ff0000"/><rect x="963" y="493" width="1" height="14" fill="#ff0000"/><rect x="962" y="494" width="3" height="8" fill="#ff0000"/><rect x="967" y="487" width="1" height="16" fill="#00ff00"/><rect x="966" y="495" width="3" height="8" fill="#00ff00"/><rect x="971" y="502" width="1" height="3" fill="#00ff00"/><rect x="970" y="502" width="3" height="3" fill="#00ff00"/><rect x="975" y="503" width="1" height="14" fill="#00ff00"/><rect x="974" y="505" width="3" height="12" fill="#00ff00"/><rect x="979" y="510" width="1" height="18" fill="#00ff00"/><rect x="978" y="516" width="3" height="12" fill="#00ff00"/><rect x="983" y="522" width="1" height="12" fill="#ff0000"/><rect x="982" y="524" width="3" height="4" fill="#ff0000"/><rect x="987" y="521" width="1" height="10" fill="#00ff00"/><rect x="986" y="524" width="3" height="6" fill="#00ff00"/><rect x="991" y="518" width="1" height="13" fill="#ff0000"/><rect x="990" y="527" width="3" height="4" fill="#ff0000"/><rect x="995" y="526" width="1" height="4" fill="#00ff00"/><rect x="994" y="526" width="3" height="3" fill="#00ff00"/><rect x="999" y="527" width="1" height="12" fill="#00ff00"/><rect x="998" y="527" width="3" height="12" fill="#00ff00"/><rect x="1003" y="523" width="1" height="16" fill="#ff0000"/><rect x="1002" y="527" width="3" height="12" fill="#ff0000"/><rect x="1007" y="510" width="1" height="19" fill="#ff0000"/><rect x="1006" y="514" width="3" height="14" fill="#ff0000"/><rect x="1011" y="496" width="1" height="28" fill="#ff0000"/><rect x="1010" y="497" width="3" height="17" fill="#ff0000"/><rect x="1015" y="496" width="1" height="21" fill="#00ff00"/><rect x="1014" y="497" width="3" height="8" fill="#00ff00"/><rect x="1019" y="501" width="1" height="7" fill="#ff0000"/><rect x="1018" y="502" width="3" height="3" fill="#ff0000"/><rect x="1023" y="494" width="1" height="18" fill="#ff0000"/><rect x="1022" y="495" width="3" height="15" fill="#ff0000"/><rect x="1027" y="495" width="1" height="15" fill="#00ff00"/><rect x="1026" y="495" width="3" height="7" fill="#00ff00"/><rect x="1031" y="499" width="1" height="17" fill="#00ff00"/><rect x="1030" y="500" width="3" height="7" fill="#00ff00"/><rect x="1035" y="500" width="1" height="14" fill="#ff0000"/><rect x="1034" y="500" width="3" height="7" fill="#ff0000"/><rect x="1039" y="474" width="1" height="30" fill="#ff0000"/><rect x="1038" y="493" width="3" height="11" fill="#ff0000"/><rect x="1043" y="486" width="1" height="9" fill="#ff0000"/><rect x="1042" y="488" width="3" height="6" fill="#ff0000"/><rect x="1047" y="493" width="1" height="9" fill="#00ff00"/><rect x="1046" y="495" width="3" height="4" fill="#00ff00"/><rect x="1051" y="490" width="1" height="13" fill="#ff0000"/><rect x="1050" y="493" width="3" height="7" fill="#ff0000"/><rect x="1055" y="492" width="1" height="14" fill="#00ff00"/><rect x="1054" y="492" width="3" height="6" fill="#00ff00"/><rect x="1059" y="491" width="1" height="8" fill="#ff0000"/><rect x="1058" y="495" width="3" height="3" fill="#ff0000"/><rect x="1063" y="466" width="1" height="30" fill="#ff0000"/><rect x="1062" y="467" width="3" height="28" fill="#ff0000"/><rect x="1067" y="462" width="1" height="10" fill="#00ff00"/><rect x="1066" y="468" width="3" height="4" fill="#00ff00"/><rect x="1071" y="449" width="1" height="26" fill="#ff0000"/><rect x="1070" y="450" width="3" height="25" fill="#ff0000"/><rect x="1075" y="441" width="1" height="32" fill="#00ff00"/><rect x="1074" y="450" width="3" height="20" fill="#00ff00"/><rect x="1079" y="462" width="1" height="16" fill="#00ff00"/><rect x="1078" y="466" width="3" height="7" fill="#00ff00"/><rect x="1083" y="470" width="1" height="20" fill="#00ff00"/><rect x="1082" y="472" width="3" height="13" fill="#00ff00"/><rect x="1087" y="471" width="1" height="24" fill="#ff0000"/><rect x="1086" y="478" width="3" height="9" fill="#ff0000"/><rect x="1091" y="476" width="1" height="7" fill="#00ff00"/><rect x="1090" y="477" width="3" height="3" fill="#00ff00"/><rect x="1095" y="469" width="1" height="14" fill="#ff0000"/><rect x="1094" y="479" width="3" height="1" fill="#ff0000"/><rect x="1099" y="476" width="1" height="9" fill="#00ff00"/><rect x="1098" y="478" width="3" height="2" fill="#00ff00"/><rect x="1103" y="473" width="1" height="8" fill="#ff0000"/><rect x="1102" y="473" width="3" height="7" fill="#ff0000"/><rect x="1107" y="472" width="1" height="18" fill="#00ff00"/><rect x="1106" y="473" width="3" height="3" fill="#00ff00"/><rect x="1111" y="467" width="1" height="11" fill="#ff0000"/><rect x="1110" y="472" width="3" height="6" fill="#ff0000"/><rect x="1115" y="471" width="1" height="4" fill="#00ff00"/><rect x="1114" y="472" width="3" height="2" fill="#00ff00"/><rect x="1119" y="470" width="1" height="8" fill="#00ff00"/><rect x="1118" y="471" width="3" height="7" fill="#00ff00"/><rect x="1123" y="469" width="1" height="9" fill="#ff0000"/><rect x="1122" y="470" width="3" height="8" fill="#ff0000"/><rect x="1127" y="462" width="1" height="11" fill="#ff0000"/><rect x="1126" y="463" width="3" height="10" fill="#ff0000"/><rect x="1131" y="448" width="1" height="17" fill="#ff0000"/><rect x="1130" y="448" width="3" height="17" fill="#ff0000"/><rect x="1135" y="447" width="1" height="9" fill="#00ff00"/><rect x="1134" y="448" width="3" height="7" fill="#00ff00"/><rect x="1139" y="451" width="1" height="5" fill="#00ff00"/><rect x="1138" y="453" width="3" height="2" fill="#00ff00"/><rect x="1143" y="428" width="1" height="28" fill="#ff0000"/><rect x="1142" y="434" width="3" height="21" fill="#ff0000"/><rect x="1147" y="428" width="1" height="11" fill="#ff0000"/><rect x="1146" y="434" width="3" height="1" fill="#ff0000"/><rect x="1151" y="431" width="1" height="14" fill="#00ff00"/><rect x="1150" y="434" width="3" height="8" fill="#00ff00"/><rect x="1155" y="426" width="1" height="19" fill="#ff0000"/><rect x="1154" y="434" width="3" height="7" fill="#ff0000"/><rect x="1159" y="432" width="1" height="4" fill="#00ff00"/><rect x="1158" y="434" width="3" height="2" fill="#00ff00"/><rect x="1163" y="432" width="1" height="4" fill="#00ff00"/><rect x="1162" y="433" width="3" height="3" fill="#00ff00"/><rect x="1167" y="428" width="1" height="18" fill="#00ff00"/><rect x="1166" y="435" width="3" height="11" fill="#00ff00"/><rect x="1171" y="442" width="1" height="14" fill="#00ff00"/><rect x="1170" y="445" width="3" height="11" fill="#00ff00"/><rect x="1175" y="448" width="1" height="8" fill="#ff0000"/><rect x="1174" y="451" width="3" height="5" fill="#ff0000"/><rect x="1179" y="441" width="1" height="13" fill="#ff0000"/><rect x="1178" y="442" width="3" height="10" fill="#ff0000"/><rect x="1183" y="436" width="1" height="13" fill="#00ff00"/><rect x="1182" y="443" width="3" height="2" fill="#00ff00"/><rect x="1187" y="442" width="1" height="3" fill="#ff0000"/><rect x="1186" y="443" width="3" height="1" fill="#ff0000"/><rect x="1191" y="439" width="1" height="12" fill="#00ff00"/><rect x="1190" y="443" width="3" height="6" fill="#00ff00"/><rect x="1195" y="443" width="1" height="10" fill="#00ff00"/><rect x="1194" y="446" width="3" height="7" fill="#00ff00"/><rect x="1199" y="450" width="1" height="15" fill="#00ff00"/><rect x="1198" y="451" width="3" height="13" fill="#00ff00"/><rect x="1203" y="452" width="1" height="13" fill="#00ff00"/><rect x="1202" y="458" width="3" height="7" fill="#00ff00"/><rect x="1207" y="458" width="1" height="9" fill="#00ff00"/><rect x="1206" y="462" width="3" height="3" fill="#00ff00"/><rect x="1211" y="462" width="1" height="3" fill="#ff0000"/><rect x="1210" y="463" width="3" height="2" fill="#ff0000"/><rect x="1215" y="458" width="1" height="20" fill="#00ff00"/><rect x="1214" y="462" width="3" height="12" fill="#00ff00"/><rect x="1219" y="472" width="1" height="16" fill="#00ff00"/><rect x="1218" y="473" width="3" height="8" fill="#00ff00"/><rect x="1223" y="477" width="1" height="10" fill="#00ff00"/><rect x="1222" y="480" width="3" height="7" fill="#00ff00"/><rect x="1227" y="483" width="1" height="10" fill="#ff0000"/><rect x="1226" y="485" width="3" height="2" fill="#ff0000"/><rect x="1231" y="480" width="1" height="9" fill="#ff0000"/><rect x="1230" y="485" width="3" height="1" fill="#ff0000"/><rect x="1235" y="484" width="1" height="4" fill="#00ff00"/><rect x="1234" y="484" width="3" height="4" fill="#00ff00"/><rect x="1239" y="485" width="1" height="11" fill="#00ff00"/><rect x="1238" y="486" width="3" height="9" fill="#00ff00"/><rect x="1243" y="488" width="1" height="10" fill="#ff0000"/><rect x="1242" y="492" width="3" height="3" fill="#ff0000"/><rect x="1247" y="487" width="1" height="10" fill="#00ff00"/><rect x="1246" y="492" width="3" height="4" fill="#00ff00"/><rect x="1251" y="493" width="1" height="11" fill="#00ff00"/><rect x="1250" y="495" width="3" height="6" fill="#00ff00"/><rect x="1255" y="499" width="1" height="4" fill="#ff0000"/><rect x="1254" y="500" width="3" height="1" fill="#ff0000"/></g>
<g clip-path="url(#cp)"><polyline points="-0.5,121.97 3.5,121.95 7.5,122.16 11.5,121.18 15.5,120.23 19.5,119.46 23.5,119.00 27.5,118.45 31.5,118.61 35.5,119.06 39.5,119.42 43.5,119.34 47.5,118.92 51.5,117.82 55.5,116.36 59.5,114.54 63.5,112.69 67.5,111.02 71.5,109.83 75.5,109.18 79.5,108.32 83.5,107.02 87.5,105.63 91.5,104.14 95.5,102.64 99.5,100.94 103.5,100.37 107.5,99.03 111.5,97.82 115.5,96.52 119.5,96.29 123.5,95.53 127.5,94.68 131.5,96.03 135.5,97.33 139.5,98.81 143.5,99.66 147.5,101.18 151.5,101.74 155.5,101.92 159.5,102.19 163.5,102.69 167.5,102.95 171.5,103.52 175.5,104.29 179.5,105.49 183.5,106.63 187.5,107.91 191.5,109.06 195.5,109.69 199.5,110.58 203.5,111.84 207.5,113.08 211.5,114.46 215.5,116.06 219.5,118.59 223.5,120.35 227.5,122.30 231.5,124.06 235.5,126.48 239.5,128.48 243.5,130.77 247.5,133.21 251.5,134.51 255.5,135.82 259.5,137.05 263.5,138.46 267.5,139.81 271.5,141.52 275.5,143.27 279.5,145.18 283.5,147.08 287.5,149.26 291.5,150.89 295.5,152.61 299.5,153.57 303.5,154.76 307.5,155.81 311.5,156.88 315.5,158.39 319.5,159.83 323.5,161.97 327.5,163.99 331.5,165.97 335.5,167.83 339.5,170.53 343.5,173.00 347.5,175.02 351.5,177.07 355.5,178.24 359.5,179.69 363.5,181.09 367.5,182.08 371.5,183.40 375.5,184.77 379.5,186.15 383.5,188.22 387.5,189.76 391.5,191.35 395.5,192.80 399.5,194.16 403.5,195.80 407.5,197.20 411.5,199.61 415.5,201.95 419.5,205.34 423.5,208.54 427.5,211.76 431.5,215.24 435.5,218.67 439.5,222.01 443.5,224.81 447.5,227.90 451.5,230.97 455.5,233.54 459.5,235.58 463.5,237.97 467.5,240.68 471.5,243.45 475.5,246.58 479.5,249.90 483.5,253.63 487.5,257.31 491.5,260.80 495.5,264.18 499.5,266.74 503.5,269.28 507.5,271.18 511.5,272.68 515.5,274.46 519.5,276.33 523.5,278.31 527.5,280.01 531.5,281.99 535.5,284.82 539.5,286.94 543.5,289.10 547.5,291.75 551.5,293.72 555.5,295.80 559.5,298.02 563.5,301.28 567.5,304.35 571.5,306.20 575.5,308.48 579.5,311.02 583.5,313.36 587.5,316.30 591.5,319.16 595.5,321.87 599.5,324.28 603.5,326.58 607.5,328.58 611.5,330.67 615.5,332.91 619.5,335.04 623.5,336.66 627.5,338.49 631.5,340.84 635.5,343.66 639.5,346.45 643.5,348.97 647.5,351.93 651.5,354.88 655.5,357.64 659.5,361.05 663.5,364.48 667.5,366.40 671.5,369.08 675.5,371.33 679.5,374.14 683.5,375.66 687.5,377.41 691.5,380.89 695.5,384.71 699.5,387.86 703.5,390.74 707.5,393.54 711.5,396.44 715.5,398.26 719.5,399.83 723.5,401.18 727.5,403.29 731.5,405.35 735.5,407.34 739.5,409.86 743.5,412.82 747.5,416.44 751.5,420.23 755.5,423.95 759.5,427.69 763.5,431.20 767.5,434.53 771.5,436.98 775.5,438.38 779.5,439.44 783.5,440.44 787.5,442.34 791.5,443.94 795.5,446.18 799.5,447.94 803.5,449.82 807.5,451.47 811.5,452.23 815.5,452.51 819.5,452.98 823.5,454.22 827.5,455.04 831.5,455.40 835.5,456.67 839.5,458.35 843.5,459.97 847.5,461.34 851.5,462.70 855.5,465.13 859.5,467.95 863.5,470.11 867.5,471.77 871.5,473.34 875.5,474.34 879.5,475.06 883.5,476.26 887.5,477.40 891.5,478.50 895.5,479.72 899.5,480.86 903.5,481.75 907.5,482.88 911.5,484.20 915.5,485.13 919.5,485.60 923.5,486.04 927.5,486.67 931.5,487.97 935.5,488.93 939.5,490.10 943.5,491.63 947.5,493.00 951.5,494.19 955.5,495.45 959.5,496.30 963.5,496.71 967.5,497.45 971.5,498.33 975.5,498.56 979.5,498.96 983.5,499.48 987.5,500.54 991.5,501.27 995.5,502.18 999.5,503.67 1003.5,504.45 1007.5,504.85 1011.5,504.84 1015.5,505.31 1019.5,505.75 1023.5,506.17 1027.5,506.42 1031.5,506.53 1035.5,506.52 1039.5,506.84 1043.5,507.07 1047.5,507.47 1051.5,507.36 1055.5,507.86 1059.5,507.87 1063.5,506.27 1067.5,504.95 1071.5,503.48 1075.5,502.36 1079.5,501.34 1083.5,501.02 1087.5,500.20 1091.5,499.37 1095.5,498.15 1099.5,496.52 1103.5,494.85 1107.5,493.05 1111.5,491.22 1115.5,489.40 1119.5,487.36 1123.5,485.46 1127.5,483.79 1131.5,482.17 1135.5,480.50 1139.5,478.90 1143.5,476.87 1147.5,474.63 1151.5,472.48 1155.5,470.28 1159.5,468.34 1163.5,466.57 1167.5,464.79 1171.5,463.52 1175.5,461.96 1179.5,460.21 1183.5,459.44 1187.5,458.52 1191.5,458.47 1195.5,457.91 1199.5,457.61 1203.5,456.92 1207.5,456.45 1211.5,455.92 1215.5,455.71 1219.5,455.75 1223.5,456.16 1227.5,456.50 1231.5,456.93 1235.5,457.38 1239.5,457.96 1243.5,458.69 1247.5,459.76 1251.5,461.48 1255.5,463.01" fill="none" stroke="#0000cd" stroke-width="1" shape-rendering="crispEdges"/><polyline points="-0.5,121.98 3.5,120.20 7.5,119.31 11.5,116.56 15.5,114.23 19.5,112.12 23.5,110.37 27.5,108.10 31.5,107.13 35.5,108.00 39.5,109.39 43.5,108.95 47.5,108.89 51.5,107.23 55.5,106.39 59.5,104.03 63.5,101.47 67.5,102.16 71.5,103.30 75.5,104.46 79.5,104.18 83.5,103.28 87.5,101.08 91.5,98.39 95.5,96.11 99.5,92.56 103.5,90.01 107.5,87.68 111.5,86.10 115.5,85.96 119.5,86.82 123.5,87.01 127.5,86.85 131.5,88.38 135.5,90.66 139.5,94.54 143.5,97.58 147.5,101.75 151.5,105.19 155.5,110.09 159.5,113.29 163.5,116.78 167.5,119.89 171.5,122.24 175.5,123.54 179.5,125.36 183.5,127.08 187.5,127.62 191.5,128.44 195.5,127.78 199.5,127.58 203.5,126.13 207.5,125.39 211.5,125.26 215.5,125.84 219.5,126.63 223.5,127.31 227.5,127.91 231.5,128.46 235.5,130.96 239.5,133.65 243.5,136.01 247.5,138.59 251.5,141.56 255.5,144.74 259.5,148.55 263.5,151.96 267.5,156.09 271.5,159.74 275.5,162.99 279.5,166.48 283.5,169.89 287.5,173.89 291.5,174.54 295.5,175.24 299.5,174.21 303.5,173.26 307.5,173.26 311.5,173.57 315.5,173.51 319.5,173.36 323.5,173.60 327.5,173.54 331.5,173.90 335.5,174.38 339.5,176.88 343.5,178.19 347.5,179.62 351.5,180.88 355.5,183.81 359.5,187.09 363.5,190.18 367.5,192.59 371.5,195.14 375.5,198.19 379.5,200.36 383.5,203.88 387.5,207.06 391.5,210.15 395.5,210.69 399.5,211.82 403.5,214.41 407.5,217.04 411.5,220.33 415.5,222.94 419.5,226.19 423.5,229.97 427.5,234.03 431.5,238.87 435.5,243.20 439.5,245.76 443.5,248.71 447.5,251.86 451.5,255.69 455.5,258.76 459.5,262.12 463.5,265.54 467.5,267.63 471.5,269.80 475.5,272.18 479.5,275.70 483.5,279.90 487.5,282.74 491.5,285.44 495.5,288.56 499.5,290.23 503.5,292.55 507.5,293.24 511.5,294.03 515.5,294.01 519.5,294.04 523.5,295.06 527.5,295.39 531.5,296.22 535.5,297.77 539.5,297.57 543.5,298.08 547.5,300.34 551.5,302.17 555.5,305.46 559.5,307.36 563.5,313.20 567.5,319.72 571.5,323.71 575.5,327.64 579.5,332.21 583.5,336.99 587.5,341.14 591.5,343.38 595.5,347.02 599.5,351.09 603.5,354.54 607.5,357.44 611.5,360.15 615.5,363.31 619.5,362.57 623.5,361.78 627.5,362.43 631.5,363.37 635.5,363.94 639.5,364.94 643.5,365.08 647.5,365.61 651.5,366.96 655.5,369.26 659.5,371.44 663.5,375.01 667.5,376.91 671.5,379.67 675.5,383.24 679.5,387.67 683.5,392.86 687.5,398.09 691.5,403.49 695.5,409.63 699.5,415.54 703.5,420.16 707.5,423.99 711.5,426.51 715.5,426.76 719.5,426.83 723.5,429.05 727.5,430.75 731.5,433.04 735.5,434.46 739.5,435.85 743.5,437.67 747.5,438.60 751.5,439.48 755.5,441.29 759.5,444.12 763.5,445.77 767.5,447.24 771.5,449.93 775.5,451.89 779.5,453.44 783.5,454.63 787.5,456.18 791.5,458.11 795.5,461.06 799.5,462.93 803.5,464.39 807.5,465.04 811.5,464.09 815.5,462.81 819.5,462.21 823.5,462.35 827.5,462.69 831.5,462.96 835.5,463.68 839.5,465.20 843.5,466.83 847.5,468.04 851.5,468.44 855.5,471.28 859.5,474.70 863.5,477.61 867.5,480.47 871.5,484.12 875.5,487.06 879.5,488.78 883.5,491.26 887.5,494.39 891.5,496.71 895.5,497.68 899.5,498.20 903.5,498.35 907.5,499.42 911.5,498.97 915.5,497.88 919.5,496.13 923.5,494.96 927.5,493.61 931.5,493.31 935.5,492.54 939.5,491.87 943.5,492.83 947.5,493.76 951.5,493.99 955.5,494.94 959.5,496.38 963.5,496.45 967.5,496.45 971.5,496.74 975.5,499.04 979.5,502.38 983.5,505.05 987.5,507.39 991.5,510.56 995.5,512.94 999.5,514.59 1003.5,515.79 1007.5,517.22 1011.5,516.84 1015.5,516.99 1019.5,517.58 1023.5,517.02 1027.5,516.76 1031.5,516.06 1035.5,514.08 1039.5,511.89 1043.5,508.96 1047.5,506.89 1051.5,504.41 1055.5,501.51 1059.5,499.20 1063.5,495.89 1067.5,493.99 1071.5,490.07 1075.5,487.67 1079.5,486.04 1083.5,484.87 1087.5,482.88 1091.5,481.41 1095.5,480.42 1099.5,479.77 1103.5,478.01 1107.5,476.72 1111.5,474.91 1115.5,473.36 1119.5,474.05 1123.5,474.04 1127.5,475.03 1131.5,473.58 1135.5,472.32 1139.5,470.17 1143.5,467.03 1147.5,463.76 1151.5,461.05 1155.5,457.84 1159.5,455.08 1163.5,452.21 1167.5,450.26 1171.5,448.96 1175.5,447.10 1179.5,445.08 1183.5,443.71 1187.5,443.32 1191.5,442.87 1195.5,442.69 1199.5,444.78 1203.5,446.92 1207.5,448.54 1211.5,450.65 1215.5,453.37 1219.5,456.59 1223.5,459.51 1227.5,461.69 1231.5,464.11 1235.5,467.31 1239.5,470.88 1243.5,474.39 1247.5,477.79 1251.5,481.24 1255.5,483.88" fill="none" stroke="#ff0000" stroke-width="1" shape-rendering="crispEdges"/><polyline points="-0.5,112.11 3.5,118.10 7.5,121.20 11.5,116.32 15.5,108.40 19.5,104.60 23.5,99.66 27.5,93.08 31.5,97.90 35.5,104.12 39.5,108.48 43.5,109.80 47.5,113.38 51.5,111.70 55.5,107.62 59.5,103.10 63.5,100.26 67.5,97.48 71.5,97.40 75.5,99.20 79.5,100.08 83.5,98.14 87.5,94.88 91.5,90.36 95.5,85.10 99.5,77.26 103.5,76.24 107.5,74.18 111.5,73.22 115.5,74.68 119.5,84.20 123.5,89.08 127.5,95.08 131.5,105.58 135.5,113.24 139.5,119.76 143.5,124.46 147.5,132.08 151.5,132.16 155.5,131.66 159.5,128.72 163.5,127.94 167.5,124.00 171.5,122.42 175.5,121.84 179.5,122.90 183.5,123.92 187.5,127.24 191.5,130.62 195.5,131.64 199.5,130.66 203.5,129.42 207.5,125.92 211.5,122.74 215.5,123.30 219.5,125.28 223.5,127.30 227.5,129.48 231.5,130.82 235.5,137.22 239.5,143.58 243.5,151.60 247.5,160.52 251.5,168.30 255.5,169.26 259.5,171.14 263.5,170.58 267.5,171.72 271.5,174.22 275.5,176.36 279.5,177.50 283.5,179.68 287.5,180.68 291.5,178.64 295.5,177.88 299.5,173.26 303.5,169.96 307.5,166.52 311.5,166.56 315.5,166.32 319.5,168.20 323.5,172.68 327.5,175.02 331.5,177.28 335.5,179.92 339.5,189.52 343.5,193.52 347.5,195.66 351.5,197.42 355.5,199.68 359.5,198.54 363.5,200.10 367.5,202.86 371.5,206.26 375.5,208.46 379.5,209.86 383.5,213.38 387.5,217.80 391.5,221.94 395.5,224.52 399.5,225.60 403.5,225.16 407.5,225.36 411.5,228.18 415.5,232.82 419.5,240.32 423.5,246.42 427.5,253.84 431.5,260.38 435.5,266.60 439.5,268.20 443.5,270.26 447.5,271.88 451.5,271.62 455.5,269.16 459.5,270.96 463.5,272.48 467.5,272.32 471.5,272.32 475.5,277.90 479.5,284.44 483.5,294.06 487.5,302.68 491.5,310.38 495.5,314.06 499.5,310.94 503.5,307.30 507.5,301.02 511.5,293.22 515.5,286.22 519.5,283.14 523.5,279.36 527.5,278.34 531.5,284.04 535.5,294.98 539.5,303.96 543.5,311.12 547.5,324.24 551.5,330.72 555.5,332.48 559.5,334.70 563.5,343.36 567.5,347.50 571.5,346.52 575.5,345.22 579.5,348.96 583.5,344.94 587.5,344.02 591.5,350.06 595.5,358.24 599.5,363.98 603.5,373.38 607.5,376.36 611.5,379.44 615.5,380.32 619.5,375.50 623.5,367.78 627.5,360.48 631.5,354.24 635.5,350.72 639.5,351.58 643.5,353.26 647.5,358.98 651.5,368.28 655.5,378.88 659.5,391.56 663.5,404.18 667.5,411.08 671.5,415.92 675.5,414.62 679.5,413.24 683.5,410.44 687.5,413.52 691.5,417.40 695.5,425.48 699.5,431.28 703.5,435.42 707.5,440.82 711.5,443.34 715.5,439.52 719.5,435.80 723.5,435.98 727.5,434.84 731.5,432.90 735.5,434.80 739.5,435.70 743.5,437.66 747.5,439.38 751.5,443.52 755.5,450.42 759.5,458.58 763.5,463.50 767.5,467.52 771.5,468.78 775.5,465.46 779.5,462.06 783.5,459.64 787.5,457.94 791.5,457.70 795.5,461.40 799.5,464.24 803.5,466.70 807.5,468.34 811.5,467.16 815.5,463.46 819.5,461.50 823.5,461.82 827.5,462.20 831.5,462.32 835.5,464.50 839.5,468.00 843.5,470.48 847.5,472.68 851.5,476.74 855.5,485.52 859.5,493.30 863.5,498.52 867.5,501.96 871.5,507.36 875.5,505.68 879.5,501.24 883.5,500.42 887.5,501.30 891.5,499.74 895.5,497.74 899.5,496.86 903.5,492.54 907.5,490.82 911.5,491.86 915.5,493.86 919.5,492.72 923.5,492.46 927.5,491.08 931.5,489.82 935.5,486.30 939.5,488.50 943.5,495.34 947.5,500.18 951.5,499.64 955.5,503.58 959.5,505.16 963.5,500.96 967.5,499.38 971.5,501.56 975.5,504.20 979.5,509.26 983.5,515.16 987.5,520.46 991.5,525.02 995.5,527.42 999.5,529.52 1003.5,530.24 1007.5,527.16 1011.5,521.16 1015.5,516.50 1019.5,509.34 1023.5,502.84 1027.5,500.28 1031.5,502.00 1035.5,501.10 1039.5,499.24 1043.5,497.88 1047.5,497.36 1051.5,494.80 1055.5,494.34 1059.5,494.70 1063.5,490.56 1067.5,485.04 1071.5,476.36 1075.5,470.58 1079.5,466.00 1083.5,469.44 1087.5,470.90 1091.5,476.86 1095.5,478.94 1099.5,480.32 1103.5,478.14 1107.5,477.56 1111.5,476.12 1115.5,474.92 1119.5,474.54 1123.5,473.92 1127.5,471.62 1131.5,466.86 1135.5,463.10 1139.5,458.58 1143.5,451.28 1147.5,445.32 1151.5,443.86 1155.5,439.78 1159.5,435.88 1163.5,436.06 1167.5,438.30 1171.5,441.06 1175.5,444.46 1179.5,445.92 1183.5,447.82 1187.5,447.44 1191.5,446.06 1195.5,446.24 1199.5,450.44 1203.5,454.32 1207.5,458.46 1211.5,461.56 1215.5,465.78 1219.5,469.14 1223.5,473.56 1227.5,477.88 1231.5,482.16 1235.5,484.94 1239.5,487.82 1243.5,489.10 1247.5,491.16 1251.5,494.20 1255.5,496.84" fill="none" stroke="#ffa500" stroke-width="1" shape-rendering="crispEdges"/></g>
<g clip-path="url(#cr)"><polyline points="-0.5,598.08 3.5,604.38 7.5,605.90 11.5,592.36 15.5,592.17 19.5,593.78 23.5,597.33 27.5,595.74 31.5,603.67 35.5,606.03 39.5,603.68 43.5,600.78 47.5,603.54 51.5,600.51 55.5,598.39 59.5,595.52 63.5,595.93 67.5,599.44 71.5,602.21 75.5,603.97 79.5,598.45 83.5,593.63 87.5,593.79 91.5,593.57 95.5,593.57 99.5,585.21 103.5,596.24 107.5,594.65 111.5,597.01 115.5,602.42 119.5,608.03 123.5,607.02 127.5,607.29 131.5,616.31 135.5,615.31 139.5,617.86 143.5,612.38 147.5,616.76 151.5,612.20 155.5,610.08 159.5,608.72 163.5,608.41 167.5,608.17 171.5,608.79 175.5,608.79 179.5,611.05 183.5,610.49 187.5,615.29 191.5,616.02 195.5,608.55 199.5,605.74 203.5,604.52 207.5,604.34 211.5,606.34 215.5,610.16 219.5,611.27 223.5,609.79 227.5,610.09 231.5,609.43 235.5,623.83 239.5,624.41 243.5,626.28 247.5,627.68 251.5,622.40 255.5,620.89 259.5,623.21 263.5,618.52 267.5,623.28 271.5,623.38 275.5,620.40 279.5,620.98 283.5,620.37 287.5,623.40 291.5,611.82 295.5,613.10 299.5,602.52 303.5,605.56 307.5,608.89 311.5,610.06 315.5,610.69 319.5,606.19 323.5,614.72 327.5,612.43 331.5,613.31 335.5,614.68 339.5,623.77 343.5,618.28 347.5,611.36 351.5,611.43 355.5,613.55 359.5,617.15 363.5,618.55 367.5,614.40 371.5,615.62 375.5,615.43 379.5,617.90 383.5,622.68 387.5,620.93 391.5,621.57 395.5,616.04 399.5,615.45 403.5,618.34 407.5,618.57 411.5,623.76 415.5,624.06 419.5,627.80 423.5,627.90 427.5,629.72 431.5,632.08 435.5,631.57 439.5,623.65 443.5,624.48 447.5,625.98 451.5,626.38 455.5,617.17 459.5,621.35 463.5,621.78 467.5,619.18 471.5,620.00 475.5,625.44 479.5,629.49 483.5,632.64 487.5,626.95 491.5,625.31 495.5,622.78 499.5,612.54 503.5,617.05 507.5,607.28 511.5,603.48 515.5,603.56 519.5,604.37 523.5,608.48 527.5,605.11 531.5,613.11 535.5,619.67 539.5,616.37 543.5,616.74 547.5,621.66 551.5,617.50 555.5,618.15 559.5,615.71 563.5,622.97 567.5,622.71 571.5,609.54 575.5,609.84 579.5,614.50 583.5,612.73 587.5,616.08 591.5,615.89 595.5,618.50 599.5,620.06 603.5,622.63 607.5,615.71 611.5,615.71 615.5,615.93 619.5,607.83 623.5,607.37 627.5,602.25 631.5,604.05 635.5,608.65 639.5,608.93 643.5,609.82 647.5,611.47 651.5,617.93 655.5,622.44 659.5,624.52 663.5,624.97 667.5,614.85 671.5,617.74 675.5,614.02 679.5,616.55 683.5,614.74 687.5,616.19 691.5,619.99 695.5,622.25 699.5,622.02 703.5,616.27 707.5,619.11 711.5,619.67 715.5,611.17 719.5,611.17 723.5,613.09 727.5,614.68 731.5,613.98 735.5,613.40 739.5,610.92 743.5,614.95 747.5,616.34 751.5,619.47 755.5,622.73 759.5,623.05 763.5,620.45 767.5,620.39 771.5,618.31 775.5,612.08 779.5,612.44 783.5,612.70 787.5,614.25 791.5,616.03 795.5,619.75 799.5,617.23 803.5,616.25 807.5,615.78 811.5,608.40 815.5,606.27 819.5,609.34 823.5,614.45 827.5,614.23 831.5,606.37 835.5,610.14 839.5,615.54 843.5,617.53 847.5,616.30 851.5,614.81 855.5,625.29 859.5,626.96 863.5,621.75 867.5,615.41 871.5,617.95 875.5,615.23 879.5,611.40 883.5,615.16 887.5,613.96 891.5,611.44 895.5,607.67 899.5,606.96 903.5,603.30 907.5,608.58 911.5,612.52 915.5,611.30 919.5,602.60 923.5,601.48 927.5,604.12 931.5,608.69 935.5,602.32 939.5,607.33 943.5,614.50 947.5,612.27 951.5,605.07 955.5,608.25 959.5,608.17 963.5,604.68 967.5,607.91 971.5,608.63 975.5,612.71 979.5,616.47 983.5,614.41 987.5,616.15 991.5,615.15 995.5,615.33 999.5,618.89 1003.5,612.58 1007.5,605.89 1011.5,599.31 1015.5,602.40 1019.5,601.57 1023.5,598.59 1027.5,601.45 1031.5,603.73 1035.5,601.16 1039.5,598.30 1043.5,596.28 1047.5,601.55 1051.5,599.34 1055.5,601.68 1059.5,600.40 1063.5,590.30 1067.5,592.13 1071.5,586.34 1075.5,595.39 1079.5,596.75 1083.5,601.83 1087.5,599.61 1091.5,600.23 1095.5,600.12 1099.5,600.00 1103.5,597.82 1107.5,598.63 1111.5,597.40 1115.5,597.95 1119.5,600.29 1123.5,597.04 1127.5,593.89 1131.5,588.14 1135.5,592.04 1139.5,592.04 1143.5,585.15 1147.5,585.09 1151.5,590.16 1155.5,587.72 1159.5,588.34 1163.5,588.34 1167.5,595.50 1171.5,601.51 1175.5,599.54 1179.5,595.50 1183.5,596.89 1187.5,596.27 1191.5,599.60 1195.5,602.03 1199.5,608.47 1203.5,608.78 1207.5,608.78 1211.5,608.63 1215.5,613.99 1219.5,617.38 1223.5,619.96 1227.5,619.51 1231.5,619.14 1235.5,620.08 1239.5,623.50 1243.5,621.33 1247.5,622.90 1251.5,624.88 1255.5,624.76" fill="none" stroke="#1e90ff" stroke-width="1" shape-rendering="crispEdges"/></g>
<g clip-path="url(#cm)" fill="#c0c0c0" shape-rendering="crispEdges"><rect x="3" y="682" width="1" height="10"/><rect x="7" y="684" width="1" height="8"/><rect x="11" y="679" width="1" height="13"/><rect x="15" y="675" width="1" height="17"/><rect x="19" y="673" width="1" height="19"/><rect x="23" y="672" width="1" height="20"/><rect x="27" y="672" width="1" height="20"/><rect x="31" y="674" width="1" height="18"/><rect x="35" y="678" width="1" height="14"/><rect x="39" y="680" width="1" height="12"/><rect x="43" y="680" width="1" height="12"/><rect x="47" y="682" width="1" height="10"/><rect x="51" y="682" width="1" height="10"/><rect x="55" y="681" width="1" height="11"/><rect x="59" y="678" width="1" height="14"/><rect x="63" y="677" width="1" height="15"/><rect x="67" y="677" width="1" height="15"/><rect x="71" y="679" width="1" height="13"/><rect x="75" y="681" width="1" height="11"/><rect x="79" y="680" width="1" height="12"/><rect x="83" y="677" width="1" height="15"/><rect x="87" y="675" width="1" height="17"/><rect x="91" y="674" width="1" height="18"/><rect x="95" y="673" width="1" height="19"/><rect x="99" y="667" width="1" height="25"/><rect x="103" y="667" width="1" height="25"/><rect x="107" y="667" width="1" height="25"/><rect x="111" y="667" width="1" height="25"/><rect x="115" y="670" width="1" height="22"/><rect x="119" y="676" width="1" height="16"/><rect x="123" y="680" width="1" height="12"/><rect x="127" y="683" width="1" height="9"/><rect x="131" y="690" width="1" height="2"/><rect x="135" y="691" width="1" height="6"/><rect x="139" y="691" width="1" height="12"/><rect x="143" y="691" width="1" height="15"/><rect x="147" y="691" width="1" height="19"/><rect x="151" y="691" width="1" height="21"/><rect x="155" y="691" width="1" height="21"/><rect x="159" y="691" width="1" height="20"/><rect x="163" y="691" width="1" height="19"/><rect x="167" y="691" width="1" height="18"/><rect x="171" y="691" width="1" height="17"/><rect x="175" y="691" width="1" height="16"/><rect x="179" y="691" width="1" height="17"/><rect x="183" y="691" width="1" height="16"/><rect x="187" y="691" width="1" height="18"/><rect x="191" y="691" width="1" height="19"/><rect x="195" y="691" width="1" height="18"/><rect x="199" y="691" width="1" height="16"/><rect x="203" y="691" width="1" height="14"/><rect x="207" y="691" width="1" height="12"/><rect x="211" y="691" width="1" height="11"/><rect x="215" y="691" width="1" height="11"/><rect x="219" y="691" width="1" height="12"/><rect x="223" y="691" width="1" height="12"/><rect x="227" y="691" width="1" height="12"/><rect x="231" y="691" width="1" height="11"/><rect x="235" y="691" width="1" height="17"/><rect x="239" y="691" width="1" height="21"/><rect x="243" y="691" width="1" height="26"/><rect x="247" y="691" width="1" height="30"/><rect x="251" y="691" width="1" height="32"/><rect x="255" y="691" width="1" height="32"/><rect x="259" y="691" width="1" height="33"/><rect x="263" y="691" width="1" height="33"/><rect x="267" y="691" width="1" height="35"/><rect x="271" y="691" width="1" height="36"/><rect x="275" y="691" width="1" height="36"/><rect x="279" y="691" width="1" height="35"/><rect x="283" y="691" width="1" height="35"/><rect x="287" y="691" width="1" height="35"/><rect x="291" y="691" width="1" height="32"/><rect x="295" y="691" width="1" height="30"/><rect x="299" y="691" width="1" height="25"/><rect x="303" y="691" width="1" height="22"/><rect x="307" y="691" width="1" height="20"/><rect x="311" y="691" width="1" height="19"/><rect x="315" y="691" width="1" height="19"/><rect x="319" y="691" width="1" height="16"/><rect x="323" y="691" width="1" height="18"/><rect x="327" y="691" width="1" height="18"/><rect x="331" y="691" width="1" height="19"/><rect x="335" y="691" width="1" height="20"/><rect x="339" y="691" width="1" height="25"/><rect x="343" y="691" width="1" height="27"/><rect x="347" y="691" width="1" height="27"/><rect x="351" y="691" width="1" height="26"/><rect x="355" y="691" width="1" height="26"/><rect x="359" y="691" width="1" height="27"/><rect x="363" y="691" width="1" height="29"/><rect x="367" y="691" width="1" height="29"/><rect x="371" y="691" width="1" height="29"/><rect x="375" y="691" width="1" height="29"/><rect x="379" y="691" width="1" height="30"/><rect x="383" y="691" width="1" height="32"/><rect x="387" y="691" width="1" height="34"/><rect x="391" y="691" width="1" height="35"/><rect x="395" y="691" width="1" height="34"/><rect x="399" y="691" width="1" height="33"/><rect x="403" y="691" width="1" height="33"/><rect x="407" y="691" width="1" height="33"/><rect x="411" y="691" width="1" height="35"/><rect x="415" y="691" width="1" height="36"/><rect x="419" y="691" width="1" height="39"/><rect x="423" y="691" width="1" height="42"/><rect x="427" y="691" width="1" height="44"/><rect x="431" y="691" width="1" height="48"/><rect x="435" y="691" width="1" height="50"/><rect x="439" y="691" width="1" height="49"/><rect x="443" y="691" width="1" height="48"/><rect x="447" y="691" width="1" height="48"/><rect x="451" y="691" width="1" height="48"/><rect x="455" y="691" width="1" height="45"/><rect x="459" y="691" width="1" height="44"/><rect x="463" y="691" width="1" height="43"/><rect x="467" y="691" width="1" height="42"/><rect x="471" y="691" width="1" height="40"/><rect x="475" y="691" width="1" height="42"/><rect x="479" y="691" width="1" height="45"/><rect x="483" y="691" width="1" height="51"/><rect x="487" y="691" width="1" height="53"/><rect x="491" y="691" width="1" height="53"/><rect x="495" y="691" width="1" height="53"/><rect x="499" y="691" width="1" height="48"/><rect x="503" y="691" width="1" height="47"/><rect x="507" y="691" width="1" height="41"/><rect x="511" y="691" width="1" height="34"/><rect x="515" y="691" width="1" height="29"/><rect x="519" y="691" width="1" height="25"/><rect x="523" y="691" width="1" height="23"/><rect x="527" y="691" width="1" height="20"/><rect x="531" y="691" width="1" height="22"/><rect x="535" y="691" width="1" height="27"/><rect x="539" y="691" width="1" height="30"/><rect x="543" y="691" width="1" height="33"/><rect x="547" y="691" width="1" height="38"/><rect x="551" y="691" width="1" height="40"/><rect x="555" y="691" width="1" height="42"/><rect x="559" y="691" width="1" height="42"/><rect x="563" y="691" width="1" height="47"/><rect x="567" y="691" width="1" height="51"/><rect x="571" y="691" width="1" height="47"/><rect x="575" y="691" width="1" height="43"/><rect x="579" y="691" width="1" height="44"/><rect x="583" y="691" width="1" height="42"/><rect x="587" y="691" width="1" height="44"/><rect x="591" y="691" width="1" height="44"/><rect x="595" y="691" width="1" height="46"/><rect x="599" y="691" width="1" height="49"/><rect x="603" y="691" width="1" height="53"/><rect x="607" y="691" width="1" height="52"/><rect x="611" y="691" width="1" height="51"/><rect x="615" y="691" width="1" height="49"/><rect x="619" y="691" width="1" height="44"/><rect x="623" y="691" width="1" height="39"/><rect x="627" y="691" width="1" height="32"/><rect x="631" y="691" width="1" height="27"/><rect x="635" y="691" width="1" height="25"/><rect x="639" y="691" width="1" height="24"/><rect x="643" y="691" width="1" height="23"/><rect x="647" y="691" width="1" height="23"/><rect x="651" y="691" width="1" height="27"/><rect x="655" y="691" width="1" height="34"/><rect x="659" y="691" width="1" height="41"/><rect x="663" y="691" width="1" height="47"/><rect x="667" y="691" width="1" height="46"/><rect x="671" y="691" width="1" height="47"/><rect x="675" y="691" width="1" height="46"/><rect x="679" y="691" width="1" height="47"/><rect x="683" y="691" width="1" height="46"/><rect x="687" y="691" width="1" height="46"/><rect x="691" y="691" width="1" height="48"/><rect x="695" y="691" width="1" height="51"/><rect x="699" y="691" width="1" height="54"/><rect x="703" y="691" width="1" height="52"/><rect x="707" y="691" width="1" height="53"/><rect x="711" y="691" width="1" height="53"/><rect x="715" y="691" width="1" height="49"/><rect x="719" y="691" width="1" height="45"/><rect x="723" y="691" width="1" height="43"/><rect x="727" y="691" width="1" height="42"/><rect x="731" y="691" width="1" height="40"/><rect x="735" y="691" width="1" height="38"/><rect x="739" y="691" width="1" height="35"/><rect x="743" y="691" width="1" height="35"/><rect x="747" y="691" width="1" height="35"/><rect x="751" y="691" width="1" height="36"/><rect x="755" y="691" width="1" height="40"/><rect x="759" y="691" width="1" height="42"/><rect x="763" y="691" width="1" height="42"/><rect x="767" y="691" width="1" height="42"/><rect x="771" y="691" width="1" height="41"/><rect x="775" y="691" width="1" height="38"/><rect x="779" y="691" width="1" height="35"/><rect x="783" y="691" width="1" height="33"/><rect x="787" y="691" width="1" height="31"/><rect x="791" y="691" width="1" height="30"/><rect x="795" y="691" width="1" height="31"/><rect x="799" y="691" width="1" height="30"/><rect x="803" y="691" width="1" height="30"/><rect x="807" y="691" width="1" height="28"/><rect x="811" y="691" width="1" height="25"/><rect x="815" y="691" width="1" height="22"/><rect x="819" y="691" width="1" height="20"/><rect x="823" y="691" width="1" height="21"/><rect x="827" y="691" width="1" height="20"/><rect x="831" y="691" width="1" height="18"/><rect x="835" y="691" width="1" height="17"/><rect x="839" y="691" width="1" height="19"/><rect x="843" y="691" width="1" height="20"/><rect x="847" y="691" width="1" height="21"/><rect x="851" y="691" width="1" height="21"/><rect x="855" y="691" width="1" height="27"/><rect x="859" y="691" width="1" height="32"/><rect x="863" y="691" width="1" height="34"/><rect x="867" y="691" width="1" height="34"/><rect x="871" y="691" width="1" height="35"/><rect x="875" y="691" width="1" height="34"/><rect x="879" y="691" width="1" height="32"/><rect x="883" y="691" width="1" height="31"/><rect x="887" y="691" width="1" height="31"/><rect x="891" y="691" width="1" height="29"/><rect x="895" y="691" width="1" height="26"/><rect x="899" y="691" width="1" height="23"/><rect x="903" y="691" width="1" height="19"/><rect x="907" y="691" width="1" height="18"/><rect x="911" y="691" width="1" height="19"/><rect x="915" y="691" width="1" height="18"/><rect x="919" y="691" width="1" height="15"/><rect x="923" y="691" width="1" height="12"/><rect x="927" y="691" width="1" height="10"/><rect x="931" y="691" width="1" height="10"/><rect x="935" y="691" width="1" height="8"/><rect x="939" y="691" width="1" height="8"/><rect x="943" y="691" width="1" height="12"/><rect x="947" y="691" width="1" height="14"/><rect x="951" y="691" width="1" height="13"/><rect x="955" y="691" width="1" height="13"/><rect x="959" y="691" width="1" height="13"/><rect x="963" y="691" width="1" height="11"/><rect x="967" y="691" width="1" height="12"/><rect x="971" y="691" width="1" height="12"/><rect x="975" y="691" width="1" height="14"/><rect x="979" y="691" width="1" height="18"/><rect x="983" y="691" width="1" height="20"/><rect x="987" y="691" width="1" height="22"/><rect x="991" y="691" width="1" height="24"/><rect x="995" y="691" width="1" height="24"/><rect x="999" y="691" width="1" height="27"/><rect x="1003" y="691" width="1" height="26"/><rect x="1007" y="691" width="1" height="23"/><rect x="1011" y="691" width="1" height="17"/><rect x="1015" y="691" width="1" height="14"/><rect x="1019" y="691" width="1" height="11"/><rect x="1023" y="691" width="1" height="7"/><rect x="1027" y="691" width="1" height="5"/><rect x="1031" y="691" width="1" height="4"/><rect x="1035" y="691" width="1" height="2"/><rect x="1039" y="690" width="1" height="2"/><rect x="1043" y="687" width="1" height="5"/><rect x="1047" y="686" width="1" height="6"/><rect x="1051" y="685" width="1" height="7"/><rect x="1055" y="685" width="1" height="7"/><rect x="1059" y="685" width="1" height="7"/><rect x="1063" y="679" width="1" height="13"/><rect x="1067" y="676" width="1" height="16"/><rect x="1071" y="670" width="1" height="22"/><rect x="1075" y="668" width="1" height="24"/><rect x="1079" y="668" width="1" height="24"/><rect x="1083" y="671" width="1" height="21"/><rect x="1087" y="672" width="1" height="20"/><rect x="1091" y="673" width="1" height="19"/><rect x="1095" y="674" width="1" height="18"/><rect x="1099" y="675" width="1" height="17"/><rect x="1103" y="675" width="1" height="17"/><rect x="1107" y="675" width="1" height="17"/><rect x="1111" y="675" width="1" height="17"/><rect x="1115" y="676" width="1" height="16"/><rect x="1119" y="677" width="1" height="15"/><rect x="1123" y="677" width="1" height="15"/><rect x="1127" y="676" width="1" height="16"/><rect x="1131" y="672" width="1" height="20"/><rect x="1135" y="671" width="1" height="21"/><rect x="1139" y="670" width="1" height="22"/><rect x="1143" y="666" width="1" height="26"/><rect x="1147" y="663" width="1" height="29"/><rect x="1151" y="662" width="1" height="30"/><rect x="1155" y="660" width="1" height="32"/><rect x="1159" y="660" width="1" height="32"/><rect x="1163" y="659" width="1" height="33"/><rect x="1167" y="662" width="1" height="30"/><rect x="1171" y="665" width="1" height="27"/><rect x="1175" y="668" width="1" height="24"/><rect x="1179" y="668" width="1" height="24"/><rect x="1183" y="670" width="1" height="22"/><rect x="1187" y="671" width="1" height="21"/><rect x="1191" y="672" width="1" height="20"/><rect x="1195" y="675" width="1" height="17"/><rect x="1199" y="679" width="1" height="13"/><rect x="1203" y="682" width="1" height="10"/><rect x="1207" y="685" width="1" height="7"/><rect x="1211" y="687" width="1" height="5"/><rect x="1215" y="691" width="1" height="1"/><rect x="1219" y="691" width="1" height="5"/><rect x="1223" y="691" width="1" height="9"/><rect x="1227" y="691" width="1" height="12"/><rect x="1231" y="691" width="1" height="14"/><rect x="1235" y="691" width="1" height="16"/><rect x="1239" y="691" width="1" height="19"/><rect x="1243" y="691" width="1" height="21"/><rect x="1247" y="691" width="1" height="22"/><rect x="1251" y="691" width="1" height="24"/><rect x="1255" y="691" width="1" height="25"/></g>
<g clip-path="url(#cm)"><polyline points="-0.5,683.53 3.5,682.85 7.5,682.44 11.5,681.47 15.5,680.43 19.5,679.69 23.5,678.99 27.5,678.21 31.5,677.44 35.5,677.18 39.5,676.93 43.5,676.45 47.5,676.73 51.5,677.45 55.5,678.32 59.5,678.98 63.5,679.59 67.5,679.90 71.5,679.97 75.5,680.05 79.5,680.02 83.5,679.52 87.5,678.80 91.5,678.04 95.5,677.40 99.5,676.35 103.5,675.25 107.5,673.92 111.5,672.45 115.5,671.39 119.5,671.22 123.5,671.71 127.5,672.73 131.5,674.71 135.5,677.90 139.5,681.75 143.5,685.96 147.5,690.59 151.5,695.06 155.5,698.96 159.5,702.33 163.5,705.23 167.5,707.17 171.5,708.40 175.5,708.88 179.5,709.10 183.5,708.78 187.5,708.48 191.5,708.34 195.5,708.15 199.5,707.83 203.5,707.38 207.5,706.80 211.5,706.19 215.5,705.60 219.5,705.10 223.5,704.41 227.5,703.55 231.5,702.79 235.5,702.88 239.5,703.71 243.5,705.24 247.5,707.34 251.5,709.59 255.5,711.85 259.5,714.27 263.5,716.65 267.5,719.26 271.5,721.38 275.5,722.98 279.5,724.05 283.5,724.58 287.5,724.97 291.5,724.97 295.5,724.61 299.5,723.71 303.5,722.25 307.5,720.50 311.5,718.68 315.5,716.81 319.5,714.79 323.5,712.90 327.5,711.38 331.5,710.13 335.5,709.55 339.5,709.93 343.5,710.74 347.5,711.56 351.5,712.35 355.5,713.38 359.5,714.41 363.5,715.59 367.5,716.70 371.5,717.74 375.5,718.15 379.5,718.38 383.5,719.03 387.5,719.95 391.5,721.00 395.5,721.75 399.5,722.16 403.5,722.59 407.5,722.97 411.5,723.62 415.5,724.36 419.5,725.13 423.5,725.98 427.5,726.98 431.5,728.48 435.5,730.35 439.5,732.14 443.5,733.90 447.5,735.41 451.5,736.70 455.5,737.31 459.5,737.60 463.5,737.52 467.5,736.87 471.5,735.82 475.5,735.01 479.5,734.67 483.5,734.94 487.5,735.49 491.5,736.43 495.5,737.36 499.5,737.89 503.5,738.45 507.5,738.55 511.5,737.75 515.5,735.92 519.5,733.02 523.5,729.69 527.5,725.96 531.5,722.51 535.5,720.21 539.5,718.39 543.5,717.44 547.5,717.83 551.5,719.07 555.5,720.97 559.5,723.04 563.5,726.07 567.5,729.32 571.5,731.46 575.5,732.89 579.5,734.11 583.5,734.60 587.5,735.02 591.5,735.31 595.5,735.85 599.5,736.04 603.5,736.24 607.5,736.81 611.5,737.64 615.5,738.29 619.5,738.46 623.5,737.92 627.5,736.55 631.5,734.40 635.5,731.80 639.5,728.64 643.5,725.47 647.5,722.45 651.5,720.02 655.5,718.93 659.5,719.17 663.5,720.79 667.5,722.90 671.5,725.34 675.5,727.79 679.5,730.38 683.5,732.86 687.5,734.87 691.5,736.42 695.5,737.57 699.5,738.35 703.5,739.04 707.5,739.63 711.5,740.39 715.5,740.65 719.5,740.59 723.5,740.30 727.5,739.61 731.5,738.35 735.5,736.64 739.5,734.77 743.5,732.77 747.5,730.75 751.5,729.35 755.5,728.72 759.5,728.59 763.5,728.64 767.5,728.87 771.5,729.20 775.5,729.49 779.5,729.53 783.5,729.29 787.5,728.69 791.5,727.65 795.5,726.43 799.5,725.11 803.5,723.69 807.5,722.28 811.5,720.88 815.5,719.44 819.5,718.07 823.5,716.90 827.5,715.81 831.5,714.39 835.5,712.93 839.5,711.72 843.5,710.84 847.5,710.40 851.5,710.32 855.5,711.05 859.5,712.34 863.5,713.90 867.5,715.66 871.5,717.59 875.5,719.28 879.5,720.52 883.5,721.65 887.5,722.66 891.5,722.87 895.5,722.16 899.5,720.88 903.5,719.23 907.5,717.38 911.5,715.68 915.5,714.21 919.5,712.38 923.5,710.29 927.5,708.22 931.5,706.52 935.5,704.89 939.5,703.71 943.5,703.09 947.5,702.63 951.5,702.01 955.5,701.78 959.5,701.93 963.5,702.08 967.5,702.21 971.5,702.62 975.5,703.25 979.5,703.87 983.5,704.48 987.5,705.52 991.5,706.69 995.5,707.94 999.5,709.63 1003.5,711.24 1007.5,712.47 1011.5,712.82 1015.5,712.37 1019.5,711.36 1023.5,709.64 1027.5,707.55 1031.5,705.29 1035.5,702.59 1039.5,699.65 1043.5,696.73 1047.5,694.41 1051.5,692.32 1055.5,690.58 1059.5,689.23 1063.5,687.52 1067.5,685.51 1071.5,682.98 1075.5,680.61 1079.5,678.55 1083.5,676.80 1087.5,675.29 1091.5,673.93 1095.5,672.74 1099.5,672.26 1103.5,672.16 1107.5,672.81 1111.5,673.61 1115.5,674.47 1119.5,675.18 1123.5,675.77 1127.5,676.09 1131.5,675.89 1135.5,675.42 1139.5,674.84 1143.5,673.75 1147.5,672.31 1151.5,670.76 1155.5,668.90 1159.5,666.99 1163.5,665.18 1167.5,664.00 1171.5,663.39 1175.5,663.17 1179.5,663.49 1183.5,664.27 1187.5,665.23 1191.5,666.57 1195.5,668.25 1199.5,670.40 1203.5,672.71 1207.5,674.91 1211.5,677.08 1215.5,679.57 1219.5,682.38 1223.5,685.55 1227.5,688.86 1231.5,692.15 1235.5,695.20 1239.5,698.17 1243.5,701.00 1247.5,703.76 1251.5,706.34 1255.5,708.59" fill="none" stroke="#ff0000" stroke-width="1" stroke-dasharray="3 3" shape-rendering="crispEdges"/></g>
<g shape-rendering="crispEdges">
<rect x="3" y="171" width="1576" height="2" fill="#ff0000"/><rect x="3" y="239" width="1576" height="2" fill="#ff0000"/><rect x="3" y="317" width="1576" height="2" fill="#ff0000"/><rect x="3" y="400" width="1576" height="2" fill="#ff0000"/><rect x="2" y="398" width="6" height="6" fill="#ff0000"/><rect x="4" y="400" width="2" height="2" fill="#fff"/><rect x="1573" y="398" width="6" height="6" fill="#ff0000"/><rect x="1575" y="400" width="2" height="2" fill="#fff"/><rect x="3" y="465" width="1576" height="2" fill="#00ff00"/><rect x="2" y="463" width="6" height="6" fill="#00ff00"/><rect x="4" y="465" width="2" height="2" fill="#fff"/><rect x="1573" y="463" width="6" height="6" fill="#00ff00"/><rect x="1575" y="465" width="2" height="2" fill="#fff"/><rect x="3" y="539" width="1576" height="2" fill="#0000ff"/><rect x="2" y="537" width="6" height="6" fill="#0000ff"/><rect x="4" y="539" width="2" height="2" fill="#fff"/><rect x="1573" y="537" width="6" height="6" fill="#0000ff"/><rect x="1575" y="539" width="2" height="2" fill="#fff"/>
<rect x="1581" y="166" width="38" height="11" fill="#ff0000"/><rect x="1581" y="234" width="38" height="11" fill="#ff0000"/><rect x="1581" y="312" width="38" height="11" fill="#ff0000"/><rect x="1581" y="395" width="38" height="11" fill="#ff0000"/><rect x="1581" y="460" width="38" height="11" fill="#00ff00"/><rect x="1581" y="534" width="38" height="11" fill="#0000ff"/><rect x="1581" y="495" width="38" height="11" fill="#000"/>
</g>
<text x="1585" y="58.5" fill="#000" class="ax">7.19110</text><text x="1585" y="91.5" fill="#000" class="ax">7.13670</text><text x="1585" y="124.5" fill="#000" class="ax">7.08230</text><text x="1585" y="157.5" fill="#000" class="ax">7.02950</text><text x="1585" y="190.5" fill="#000" class="ax">6.97510</text><text x="1585" y="223.5" fill="#000" class="ax">6.92230</text><text x="1585" y="256.5" fill="#000" class="ax">6.86790</text><text x="1585" y="289.5" fill="#000" class="ax">6.81350</text><text x="1585" y="355.5" fill="#000" class="ax">6.70630</text><text x="1585" y="388.5" fill="#000" class="ax">6.65350</text><text x="1585" y="421.5" fill="#000" class="ax">6.59910</text><text x="1585" y="454.5" fill="#000" class="ax">6.54470</text><text x="1585" y="487.5" fill="#000" class="ax">6.49190</text><text x="1585" y="520.5" fill="#000" class="ax">6.43750</text><text x="1585" y="553.5" fill="#000" class="ax">6.38470</text><text x="1585" y="174.5" fill="#fff" class="ax">7.00029</text><text x="1585" y="242.5" fill="#fff" class="ax">6.88897</text><text x="1585" y="320.5" fill="#fff" class="ax">6.76157</text><text x="1585" y="403.5" fill="#fff" class="ax">6.62709</text><text x="1585" y="468.5" fill="#fff" class="ax">6.52138</text><text x="1585" y="542.5" fill="#fff" class="ax">6.40104</text><text x="1585" y="503.5" fill="#fff" class="ax">6.46607</text><text x="1583" y="566.0" fill="#000" class="ax">100</text><text x="1582" y="589.0" fill="#000" class="ax">70</text><text x="1582" y="626.0" fill="#000" class="ax">30</text><text x="1583" y="648.0" fill="#000" class="ax">0</text><text x="1583" y="664.0" fill="#000" class="ax">0.025623</text><text x="1583" y="695.0" fill="#000" class="ax">0.00</text><text x="1583" y="746.5" fill="#000" class="ax">-0.04068</text><text x="1.5" y="762" fill="#000" class="tm">29 Apr 2020</text><text x="65.5" y="762" fill="#000" class="tm">18 May 2020</text><text x="129.5" y="762" fill="#000" class="tm">5 Jun 2020</text><text x="193.5" y="762" fill="#000" class="tm">24 Jun 2020</text><text x="257.5" y="762" fill="#000" class="tm">13 Jul 2020</text><text x="321.5" y="762" fill="#000" class="tm">31 Jul 2020</text><text x="385.5" y="762" fill="#000" class="tm">19 Aug 2020</text><text x="449.5" y="762" fill="#000" class="tm">7 Sep 2020</text><text x="513.5" y="762" fill="#000" class="tm">25 Sep 2020</text><text x="577.5" y="762" fill="#000" class="tm">14 Oct 2020</text><text x="641.5" y="762" fill="#000" class="tm">2 Nov 2020</text><text x="705.5" y="762" fill="#000" class="tm">20 Nov 2020</text><text x="769.5" y="762" fill="#000" class="tm">9 Dec 2020</text><text x="833.5" y="762" fill="#000" class="tm">29 Dec 2020</text><text x="897.5" y="762" fill="#000" class="tm">16 Jan 2021</text><text x="961.5" y="762" fill="#000" class="tm">4 Feb 2021</text><text x="1025.5" y="762" fill="#000" class="tm">23 Feb 2021</text><text x="1089.5" y="762" fill="#000" class="tm">13 Mar 2021</text><text x="1153.5" y="762" fill="#000" class="tm">1 Apr 2021</text><text x="1217.5" y="762" fill="#000" class="tm">20 Apr 2021</text><path d="M6 33h7l-3.5 4z" fill="#000"/><path d="M1258 27h9l-4.5 5z" fill="#c0c0c0"/><text x="18" y="38" class="ti" fill="#000" textLength="66.5" lengthAdjust="spacing">USDCNH,Daily</text><text x="89.6" y="38" class="tn" fill="#000" textLength="141.5" lengthAdjust="spacing">6.46602 6.46692 6.46176 6.46607</text><text x="6.9" y="568" class="tn" fill="#000" textLength="68.5" lengthAdjust="spacing">RSI(14) 28.0763</text><text x="6.9" y="666" class="tn" fill="#000" textLength="154.4" lengthAdjust="spacing">MACD(12,26,9) -0.017103 -0.012111</text>
<g shape-rendering="crispEdges">
<rect x="0" y="770" width="1619" height="1" fill="#e3e3e3"/><rect x="0" y="771" width="1619" height="1" fill="#ffffff"/><rect x="0" y="772" width="1619" height="1" fill="#000000"/><rect x="0" y="773" width="1619" height="19" fill="#f0f0f0"/><rect x="0" y="792" width="1619" height="1" fill="#ffffff"/><rect x="0" y="793" width="1619" height="3" fill="#f0f0f0"/><rect x="416" y="772" width="104" height="19" fill="#000"/><rect x="417" y="772" width="102" height="18" fill="#fff"/><rect x="108" y="775" width="1" height="14" fill="#555"/><rect x="209" y="775" width="1" height="14" fill="#555"/><rect x="313" y="775" width="1" height="14" fill="#555"/><rect x="624" y="775" width="1" height="14" fill="#555"/><rect x="729" y="775" width="1" height="14" fill="#555"/><rect x="820" y="775" width="1" height="14" fill="#555"/><rect x="904" y="775" width="1" height="14" fill="#555"/><rect x="985" y="775" width="1" height="14" fill="#555"/><rect x="1065" y="775" width="1" height="14" fill="#555"/><rect x="1145" y="775" width="1" height="14" fill="#555"/><rect x="1220" y="775" width="1" height="14" fill="#555"/><rect x="1292" y="775" width="1" height="14" fill="#555"/><rect x="1376" y="775" width="1" height="14" fill="#555"/><rect x="1472" y="775" width="1" height="14" fill="#555"/><rect x="1572" y="775" width="1" height="14" fill="#555"/><text x="15.5" y="787" class="tab" fill="#6d6d6d" textLength="80.7" lengthAdjust="spacing">EURUSD,Daily</text><text x="117.7" y="787" class="tab" fill="#6d6d6d" textLength="79.5" lengthAdjust="spacing">USDCHF,Daily</text><text x="218.4" y="787" class="tab" fill="#6d6d6d" textLength="82.8" lengthAdjust="spacing">AUDUSD,Daily</text><text x="322.2" y="787" class="tab" fill="#6d6d6d" textLength="82.0" lengthAdjust="spacing">USDCAD,Daily</text><text x="425.7" y="787" class="tab" fill="#000" textLength="83.2" lengthAdjust="spacing">USDCNH,Daily</text><text x="531.5" y="787" class="tab" fill="#6d6d6d" textLength="80.9" lengthAdjust="spacing">EURUSD,Daily</text><text x="635.2" y="787" class="tab" fill="#6d6d6d" textLength="81.0" lengthAdjust="spacing">GBPUSD,Daily</text><text x="738.5" y="787" class="tab" fill="#6d6d6d" textLength="69.5" lengthAdjust="spacing">XAUUSD,H4</text><text x="831.6" y="787" class="tab" fill="#6d6d6d" textLength="59.9" lengthAdjust="spacing">HK50,M15</text><text x="914.6" y="787" class="tab" fill="#6d6d6d" textLength="57.3" lengthAdjust="spacing">UK100,H1</text><text x="994.5" y="787" class="tab" fill="#6d6d6d" textLength="57.3" lengthAdjust="spacing">UK100,H1</text><text x="1074.7" y="787" class="tab" fill="#6d6d6d" textLength="57.0" lengthAdjust="spacing">GER30,H1</text><text x="1153.8" y="787" class="tab" fill="#6d6d6d" textLength="55.0" lengthAdjust="spacing">FRA40,H1</text><text x="1229.7" y="787" class="tab" fill="#6d6d6d" textLength="51.2" lengthAdjust="spacing">USOil,H1</text><text x="1301.4" y="787" class="tab" fill="#6d6d6d" textLength="63.1" lengthAdjust="spacing">USDJPY,H1</text><text x="1386.1" y="787" class="tab" fill="#6d6d6d" textLength="74.1" lengthAdjust="spacing">DJ30,Weekly</text><text x="1481.2" y="787" class="tab" fill="#6d6d6d" textLength="79.2" lengthAdjust="spacing">CHINA300,H1</text><text x="1582.2" y="787" class="tab" fill="#6d6d6d" transform="translate(1583,0) scale(0.8,1) translate(-1583,0)">U</text><path d="M1598 778v7l-3.5-3.5z" fill="#a0a0a0"/><path d="M1614 778v7l3.5-3.5z" fill="#000"/>
</g>
</svg>
</body></html>
